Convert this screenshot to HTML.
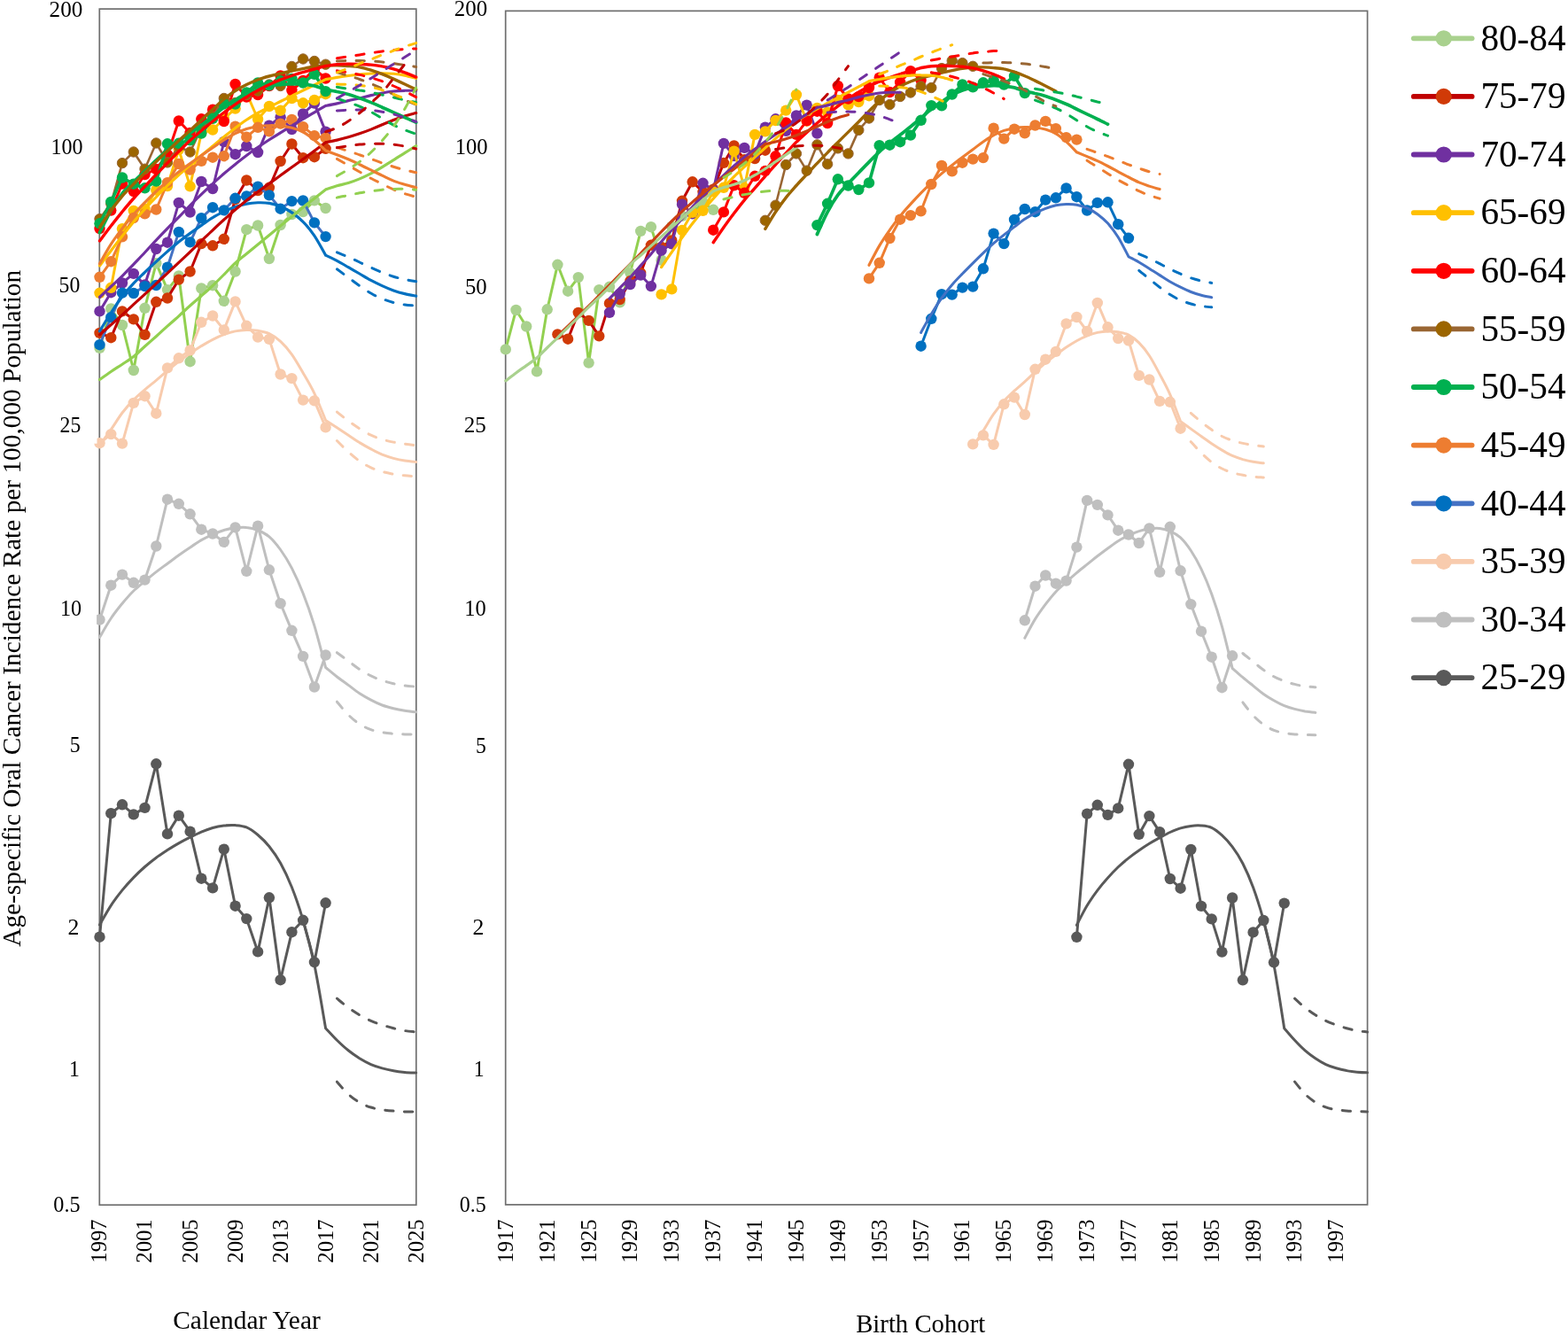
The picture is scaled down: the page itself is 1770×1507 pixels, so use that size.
<!DOCTYPE html>
<html><head><meta charset="utf-8"><title>Age-specific Oral Cancer Incidence Rate</title>
<style>html,body{margin:0;padding:0;background:#fff}svg{display:block}</style></head>
<body>
<svg width="1770" height="1507" viewBox="0 0 1770 1507" font-family='"Liberation Serif", "Times New Roman", serif' fill="#000">
<rect width="1770" height="1507" fill="#fff"/>
<g id="panel-calendar-year">
<rect x="112.3" y="10.1" width="357.50" height="1350.10" fill="none" stroke="#6f6f6f" stroke-width="1.7"/>
<path d="M112.5,392.9 L125.3,348.5 L138.0,367.0 L150.8,418.0 L163.5,347.8 L176.3,297.2 L189.0,327.1 L201.8,311.5 L214.6,408.2 L227.3,325.5 L240.1,322.2 L252.8,339.8 L265.6,306.5 L278.3,259.2 L291.1,254.5 L303.9,292.0 L316.6,254.0 L329.4,242.0 L342.1,239.0 L354.9,226.4 L367.6,235.0" fill="none" stroke="#92D050" stroke-width="3.0" stroke-linejoin="round" stroke-linecap="round"/>
<circle cx="112.5" cy="392.9" r="6.2" fill="#A9D18E"/>
<circle cx="125.3" cy="348.5" r="6.2" fill="#A9D18E"/>
<circle cx="138.0" cy="367.0" r="6.2" fill="#A9D18E"/>
<circle cx="150.8" cy="418.0" r="6.2" fill="#A9D18E"/>
<circle cx="163.5" cy="347.8" r="6.2" fill="#A9D18E"/>
<circle cx="176.3" cy="297.2" r="6.2" fill="#A9D18E"/>
<circle cx="189.0" cy="327.1" r="6.2" fill="#A9D18E"/>
<circle cx="201.8" cy="311.5" r="6.2" fill="#A9D18E"/>
<circle cx="214.6" cy="408.2" r="6.2" fill="#A9D18E"/>
<circle cx="227.3" cy="325.5" r="6.2" fill="#A9D18E"/>
<circle cx="240.1" cy="322.2" r="6.2" fill="#A9D18E"/>
<circle cx="252.8" cy="339.8" r="6.2" fill="#A9D18E"/>
<circle cx="265.6" cy="306.5" r="6.2" fill="#A9D18E"/>
<circle cx="278.3" cy="259.2" r="6.2" fill="#A9D18E"/>
<circle cx="291.1" cy="254.5" r="6.2" fill="#A9D18E"/>
<circle cx="303.9" cy="292.0" r="6.2" fill="#A9D18E"/>
<circle cx="316.6" cy="254.0" r="6.2" fill="#A9D18E"/>
<circle cx="329.4" cy="242.0" r="6.2" fill="#A9D18E"/>
<circle cx="342.1" cy="239.0" r="6.2" fill="#A9D18E"/>
<circle cx="354.9" cy="226.4" r="6.2" fill="#A9D18E"/>
<circle cx="367.6" cy="235.0" r="6.2" fill="#A9D18E"/>
<path d="M112.5,375.9 L125.3,381.2 L138.0,351.4 L150.8,360.4 L163.5,377.9 L176.3,340.8 L189.0,336.5 L201.8,315.6 L214.6,306.5 L227.3,275.1 L240.1,277.3 L252.8,269.8 L265.6,225.0 L278.3,203.5 L291.1,215.0 L303.9,211.8 L316.6,182.0 L329.4,162.5 L342.1,178.2 L354.9,177.2 L367.6,167.8" fill="none" stroke="#C00000" stroke-width="3.0" stroke-linejoin="round" stroke-linecap="round"/>
<circle cx="112.5" cy="375.9" r="6.2" fill="#D03A07"/>
<circle cx="125.3" cy="381.2" r="6.2" fill="#D03A07"/>
<circle cx="138.0" cy="351.4" r="6.2" fill="#D03A07"/>
<circle cx="150.8" cy="360.4" r="6.2" fill="#D03A07"/>
<circle cx="163.5" cy="377.9" r="6.2" fill="#D03A07"/>
<circle cx="176.3" cy="340.8" r="6.2" fill="#D03A07"/>
<circle cx="189.0" cy="336.5" r="6.2" fill="#D03A07"/>
<circle cx="201.8" cy="315.6" r="6.2" fill="#D03A07"/>
<circle cx="214.6" cy="306.5" r="6.2" fill="#D03A07"/>
<circle cx="227.3" cy="275.1" r="6.2" fill="#D03A07"/>
<circle cx="240.1" cy="277.3" r="6.2" fill="#D03A07"/>
<circle cx="252.8" cy="269.8" r="6.2" fill="#D03A07"/>
<circle cx="265.6" cy="225.0" r="6.2" fill="#D03A07"/>
<circle cx="278.3" cy="203.5" r="6.2" fill="#D03A07"/>
<circle cx="291.1" cy="215.0" r="6.2" fill="#D03A07"/>
<circle cx="303.9" cy="211.8" r="6.2" fill="#D03A07"/>
<circle cx="316.6" cy="182.0" r="6.2" fill="#D03A07"/>
<circle cx="329.4" cy="162.5" r="6.2" fill="#D03A07"/>
<circle cx="342.1" cy="178.2" r="6.2" fill="#D03A07"/>
<circle cx="354.9" cy="177.2" r="6.2" fill="#D03A07"/>
<circle cx="367.6" cy="167.8" r="6.2" fill="#D03A07"/>
<path d="M112.5,351.4 L125.3,330.2 L138.0,319.5 L150.8,308.9 L163.5,321.5 L176.3,281.0 L189.0,273.7 L201.8,228.9 L214.6,239.5 L227.3,205.0 L240.1,213.0 L252.8,160.0 L265.6,174.2 L278.3,165.0 L291.1,172.0 L303.9,141.7 L316.6,132.3 L329.4,146.0 L342.1,128.5 L354.9,116.6 L367.6,148.6" fill="none" stroke="#7030A0" stroke-width="3.0" stroke-linejoin="round" stroke-linecap="round"/>
<circle cx="112.5" cy="351.4" r="6.2" fill="#7030A0"/>
<circle cx="125.3" cy="330.2" r="6.2" fill="#7030A0"/>
<circle cx="138.0" cy="319.5" r="6.2" fill="#7030A0"/>
<circle cx="150.8" cy="308.9" r="6.2" fill="#7030A0"/>
<circle cx="163.5" cy="321.5" r="6.2" fill="#7030A0"/>
<circle cx="176.3" cy="281.0" r="6.2" fill="#7030A0"/>
<circle cx="189.0" cy="273.7" r="6.2" fill="#7030A0"/>
<circle cx="201.8" cy="228.9" r="6.2" fill="#7030A0"/>
<circle cx="214.6" cy="239.5" r="6.2" fill="#7030A0"/>
<circle cx="227.3" cy="205.0" r="6.2" fill="#7030A0"/>
<circle cx="240.1" cy="213.0" r="6.2" fill="#7030A0"/>
<circle cx="252.8" cy="160.0" r="6.2" fill="#7030A0"/>
<circle cx="265.6" cy="174.2" r="6.2" fill="#7030A0"/>
<circle cx="278.3" cy="165.0" r="6.2" fill="#7030A0"/>
<circle cx="291.1" cy="172.0" r="6.2" fill="#7030A0"/>
<circle cx="303.9" cy="141.7" r="6.2" fill="#7030A0"/>
<circle cx="316.6" cy="132.3" r="6.2" fill="#7030A0"/>
<circle cx="329.4" cy="146.0" r="6.2" fill="#7030A0"/>
<circle cx="342.1" cy="128.5" r="6.2" fill="#7030A0"/>
<circle cx="354.9" cy="116.6" r="6.2" fill="#7030A0"/>
<circle cx="367.6" cy="148.6" r="6.2" fill="#7030A0"/>
<path d="M112.5,330.8 L125.3,324.8 L138.0,258.2 L150.8,238.0 L163.5,236.0 L176.3,214.6 L189.0,210.0 L201.8,168.8 L214.6,210.3 L227.3,150.0 L240.1,146.5 L252.8,134.0 L265.6,122.6 L278.3,105.0 L291.1,134.5 L303.9,120.0 L316.6,124.8 L329.4,111.0 L342.1,116.3 L354.9,113.0 L367.6,106.2" fill="none" stroke="#FFC000" stroke-width="3.0" stroke-linejoin="round" stroke-linecap="round"/>
<circle cx="112.5" cy="330.8" r="6.2" fill="#FFC000"/>
<circle cx="125.3" cy="324.8" r="6.2" fill="#FFC000"/>
<circle cx="138.0" cy="258.2" r="6.2" fill="#FFC000"/>
<circle cx="150.8" cy="238.0" r="6.2" fill="#FFC000"/>
<circle cx="163.5" cy="236.0" r="6.2" fill="#FFC000"/>
<circle cx="176.3" cy="214.6" r="6.2" fill="#FFC000"/>
<circle cx="189.0" cy="210.0" r="6.2" fill="#FFC000"/>
<circle cx="201.8" cy="168.8" r="6.2" fill="#FFC000"/>
<circle cx="214.6" cy="210.3" r="6.2" fill="#FFC000"/>
<circle cx="227.3" cy="150.0" r="6.2" fill="#FFC000"/>
<circle cx="240.1" cy="146.5" r="6.2" fill="#FFC000"/>
<circle cx="252.8" cy="134.0" r="6.2" fill="#FFC000"/>
<circle cx="265.6" cy="122.6" r="6.2" fill="#FFC000"/>
<circle cx="278.3" cy="105.0" r="6.2" fill="#FFC000"/>
<circle cx="291.1" cy="134.5" r="6.2" fill="#FFC000"/>
<circle cx="303.9" cy="120.0" r="6.2" fill="#FFC000"/>
<circle cx="316.6" cy="124.8" r="6.2" fill="#FFC000"/>
<circle cx="329.4" cy="111.0" r="6.2" fill="#FFC000"/>
<circle cx="342.1" cy="116.3" r="6.2" fill="#FFC000"/>
<circle cx="354.9" cy="113.0" r="6.2" fill="#FFC000"/>
<circle cx="367.6" cy="106.2" r="6.2" fill="#FFC000"/>
<path d="M112.5,258.0 L125.3,237.6 L138.0,207.5 L150.8,216.0 L163.5,197.0 L176.3,191.0 L189.0,174.4 L201.8,136.5 L214.6,150.0 L227.3,134.3 L240.1,123.7 L252.8,137.0 L265.6,95.0 L278.3,109.5 L291.1,107.1 L303.9,97.0 L316.6,85.5 L329.4,102.0 L342.1,91.0 L354.9,78.0 L367.6,88.5" fill="none" stroke="#FF0000" stroke-width="3.0" stroke-linejoin="round" stroke-linecap="round"/>
<circle cx="112.5" cy="258.0" r="6.2" fill="#FF0000"/>
<circle cx="125.3" cy="237.6" r="6.2" fill="#FF0000"/>
<circle cx="138.0" cy="207.5" r="6.2" fill="#FF0000"/>
<circle cx="150.8" cy="216.0" r="6.2" fill="#FF0000"/>
<circle cx="163.5" cy="197.0" r="6.2" fill="#FF0000"/>
<circle cx="176.3" cy="191.0" r="6.2" fill="#FF0000"/>
<circle cx="189.0" cy="174.4" r="6.2" fill="#FF0000"/>
<circle cx="201.8" cy="136.5" r="6.2" fill="#FF0000"/>
<circle cx="214.6" cy="150.0" r="6.2" fill="#FF0000"/>
<circle cx="227.3" cy="134.3" r="6.2" fill="#FF0000"/>
<circle cx="240.1" cy="123.7" r="6.2" fill="#FF0000"/>
<circle cx="252.8" cy="137.0" r="6.2" fill="#FF0000"/>
<circle cx="265.6" cy="95.0" r="6.2" fill="#FF0000"/>
<circle cx="278.3" cy="109.5" r="6.2" fill="#FF0000"/>
<circle cx="291.1" cy="107.1" r="6.2" fill="#FF0000"/>
<circle cx="303.9" cy="97.0" r="6.2" fill="#FF0000"/>
<circle cx="316.6" cy="85.5" r="6.2" fill="#FF0000"/>
<circle cx="329.4" cy="102.0" r="6.2" fill="#FF0000"/>
<circle cx="342.1" cy="91.0" r="6.2" fill="#FF0000"/>
<circle cx="354.9" cy="78.0" r="6.2" fill="#FF0000"/>
<circle cx="367.6" cy="88.5" r="6.2" fill="#FF0000"/>
<path d="M112.5,247.1 L125.3,229.9 L138.0,184.1 L150.8,171.5 L163.5,190.7 L176.3,161.5 L189.0,183.4 L201.8,165.5 L214.6,171.5 L227.3,145.0 L240.1,131.5 L252.8,111.0 L265.6,116.0 L278.3,107.0 L291.1,102.5 L303.9,95.5 L316.6,97.0 L329.4,75.0 L342.1,66.5 L354.9,69.0 L367.6,72.7" fill="none" stroke="#996633" stroke-width="2.6" stroke-linejoin="round" stroke-linecap="round"/>
<circle cx="112.5" cy="247.1" r="5.7" fill="#9C6500" stroke="#996633" stroke-width="1"/>
<circle cx="125.3" cy="229.9" r="5.7" fill="#9C6500" stroke="#996633" stroke-width="1"/>
<circle cx="138.0" cy="184.1" r="5.7" fill="#9C6500" stroke="#996633" stroke-width="1"/>
<circle cx="150.8" cy="171.5" r="5.7" fill="#9C6500" stroke="#996633" stroke-width="1"/>
<circle cx="163.5" cy="190.7" r="5.7" fill="#9C6500" stroke="#996633" stroke-width="1"/>
<circle cx="176.3" cy="161.5" r="5.7" fill="#9C6500" stroke="#996633" stroke-width="1"/>
<circle cx="189.0" cy="183.4" r="5.7" fill="#9C6500" stroke="#996633" stroke-width="1"/>
<circle cx="201.8" cy="165.5" r="5.7" fill="#9C6500" stroke="#996633" stroke-width="1"/>
<circle cx="214.6" cy="171.5" r="5.7" fill="#9C6500" stroke="#996633" stroke-width="1"/>
<circle cx="227.3" cy="145.0" r="5.7" fill="#9C6500" stroke="#996633" stroke-width="1"/>
<circle cx="240.1" cy="131.5" r="5.7" fill="#9C6500" stroke="#996633" stroke-width="1"/>
<circle cx="252.8" cy="111.0" r="5.7" fill="#9C6500" stroke="#996633" stroke-width="1"/>
<circle cx="265.6" cy="116.0" r="5.7" fill="#9C6500" stroke="#996633" stroke-width="1"/>
<circle cx="278.3" cy="107.0" r="5.7" fill="#9C6500" stroke="#996633" stroke-width="1"/>
<circle cx="291.1" cy="102.5" r="5.7" fill="#9C6500" stroke="#996633" stroke-width="1"/>
<circle cx="303.9" cy="95.5" r="5.7" fill="#9C6500" stroke="#996633" stroke-width="1"/>
<circle cx="316.6" cy="97.0" r="5.7" fill="#9C6500" stroke="#996633" stroke-width="1"/>
<circle cx="329.4" cy="75.0" r="5.7" fill="#9C6500" stroke="#996633" stroke-width="1"/>
<circle cx="342.1" cy="66.5" r="5.7" fill="#9C6500" stroke="#996633" stroke-width="1"/>
<circle cx="354.9" cy="69.0" r="5.7" fill="#9C6500" stroke="#996633" stroke-width="1"/>
<circle cx="367.6" cy="72.7" r="5.7" fill="#9C6500" stroke="#996633" stroke-width="1"/>
<path d="M112.5,252.3 L125.3,228.0 L138.0,200.5 L150.8,207.7 L163.5,212.3 L176.3,204.6 L189.0,162.3 L201.8,161.8 L214.6,158.3 L227.3,150.6 L240.1,133.8 L252.8,117.2 L265.6,117.5 L278.3,104.5 L291.1,93.5 L303.9,96.3 L316.6,91.2 L329.4,89.0 L342.1,93.5 L354.9,83.9 L367.6,103.1" fill="none" stroke="#00B050" stroke-width="3.6" stroke-linejoin="round" stroke-linecap="round"/>
<circle cx="112.5" cy="252.3" r="6.2" fill="#00B050"/>
<circle cx="125.3" cy="228.0" r="6.2" fill="#00B050"/>
<circle cx="138.0" cy="200.5" r="6.2" fill="#00B050"/>
<circle cx="150.8" cy="207.7" r="6.2" fill="#00B050"/>
<circle cx="163.5" cy="212.3" r="6.2" fill="#00B050"/>
<circle cx="176.3" cy="204.6" r="6.2" fill="#00B050"/>
<circle cx="189.0" cy="162.3" r="6.2" fill="#00B050"/>
<circle cx="201.8" cy="161.8" r="6.2" fill="#00B050"/>
<circle cx="214.6" cy="158.3" r="6.2" fill="#00B050"/>
<circle cx="227.3" cy="150.6" r="6.2" fill="#00B050"/>
<circle cx="240.1" cy="133.8" r="6.2" fill="#00B050"/>
<circle cx="252.8" cy="117.2" r="6.2" fill="#00B050"/>
<circle cx="265.6" cy="117.5" r="6.2" fill="#00B050"/>
<circle cx="278.3" cy="104.5" r="6.2" fill="#00B050"/>
<circle cx="291.1" cy="93.5" r="6.2" fill="#00B050"/>
<circle cx="303.9" cy="96.3" r="6.2" fill="#00B050"/>
<circle cx="316.6" cy="91.2" r="6.2" fill="#00B050"/>
<circle cx="329.4" cy="89.0" r="6.2" fill="#00B050"/>
<circle cx="342.1" cy="93.5" r="6.2" fill="#00B050"/>
<circle cx="354.9" cy="83.9" r="6.2" fill="#00B050"/>
<circle cx="367.6" cy="103.1" r="6.2" fill="#00B050"/>
<path d="M112.5,312.8 L125.3,295.2 L138.0,267.3 L150.8,246.0 L163.5,241.4 L176.3,236.5 L189.0,206.2 L201.8,185.0 L214.6,191.5 L227.3,181.9 L240.1,177.7 L252.8,176.2 L265.6,142.7 L278.3,154.7 L291.1,143.8 L303.9,148.4 L316.6,139.6 L329.4,135.0 L342.1,143.1 L354.9,153.2 L367.6,155.7" fill="none" stroke="#ED7D31" stroke-width="3.0" stroke-linejoin="round" stroke-linecap="round"/>
<circle cx="112.5" cy="312.8" r="6.2" fill="#ED7D31"/>
<circle cx="125.3" cy="295.2" r="6.2" fill="#ED7D31"/>
<circle cx="138.0" cy="267.3" r="6.2" fill="#ED7D31"/>
<circle cx="150.8" cy="246.0" r="6.2" fill="#ED7D31"/>
<circle cx="163.5" cy="241.4" r="6.2" fill="#ED7D31"/>
<circle cx="176.3" cy="236.5" r="6.2" fill="#ED7D31"/>
<circle cx="189.0" cy="206.2" r="6.2" fill="#ED7D31"/>
<circle cx="201.8" cy="185.0" r="6.2" fill="#ED7D31"/>
<circle cx="214.6" cy="191.5" r="6.2" fill="#ED7D31"/>
<circle cx="227.3" cy="181.9" r="6.2" fill="#ED7D31"/>
<circle cx="240.1" cy="177.7" r="6.2" fill="#ED7D31"/>
<circle cx="252.8" cy="176.2" r="6.2" fill="#ED7D31"/>
<circle cx="265.6" cy="142.7" r="6.2" fill="#ED7D31"/>
<circle cx="278.3" cy="154.7" r="6.2" fill="#ED7D31"/>
<circle cx="291.1" cy="143.8" r="6.2" fill="#ED7D31"/>
<circle cx="303.9" cy="148.4" r="6.2" fill="#ED7D31"/>
<circle cx="316.6" cy="139.6" r="6.2" fill="#ED7D31"/>
<circle cx="329.4" cy="135.0" r="6.2" fill="#ED7D31"/>
<circle cx="342.1" cy="143.1" r="6.2" fill="#ED7D31"/>
<circle cx="354.9" cy="153.2" r="6.2" fill="#ED7D31"/>
<circle cx="367.6" cy="155.7" r="6.2" fill="#ED7D31"/>
<path d="M112.5,389.2 L125.3,358.2 L138.0,330.6 L150.8,331.0 L163.5,323.1 L176.3,322.0 L189.0,301.7 L201.8,261.9 L214.6,273.4 L227.3,246.2 L240.1,234.2 L252.8,237.4 L265.6,223.8 L278.3,221.5 L291.1,210.6 L303.9,220.4 L316.6,235.7 L329.4,227.1 L342.1,226.5 L354.9,251.4 L367.6,267.1" fill="none" stroke="#4472C4" stroke-width="3.0" stroke-linejoin="round" stroke-linecap="round"/>
<circle cx="112.5" cy="389.2" r="6.2" fill="#0070C0"/>
<circle cx="125.3" cy="358.2" r="6.2" fill="#0070C0"/>
<circle cx="138.0" cy="330.6" r="6.2" fill="#0070C0"/>
<circle cx="150.8" cy="331.0" r="6.2" fill="#0070C0"/>
<circle cx="163.5" cy="323.1" r="6.2" fill="#0070C0"/>
<circle cx="176.3" cy="322.0" r="6.2" fill="#0070C0"/>
<circle cx="189.0" cy="301.7" r="6.2" fill="#0070C0"/>
<circle cx="201.8" cy="261.9" r="6.2" fill="#0070C0"/>
<circle cx="214.6" cy="273.4" r="6.2" fill="#0070C0"/>
<circle cx="227.3" cy="246.2" r="6.2" fill="#0070C0"/>
<circle cx="240.1" cy="234.2" r="6.2" fill="#0070C0"/>
<circle cx="252.8" cy="237.4" r="6.2" fill="#0070C0"/>
<circle cx="265.6" cy="223.8" r="6.2" fill="#0070C0"/>
<circle cx="278.3" cy="221.5" r="6.2" fill="#0070C0"/>
<circle cx="291.1" cy="210.6" r="6.2" fill="#0070C0"/>
<circle cx="303.9" cy="220.4" r="6.2" fill="#0070C0"/>
<circle cx="316.6" cy="235.7" r="6.2" fill="#0070C0"/>
<circle cx="329.4" cy="227.1" r="6.2" fill="#0070C0"/>
<circle cx="342.1" cy="226.5" r="6.2" fill="#0070C0"/>
<circle cx="354.9" cy="251.4" r="6.2" fill="#0070C0"/>
<circle cx="367.6" cy="267.1" r="6.2" fill="#0070C0"/>
<path d="M112.5,500.2 L125.3,490.1 L138.0,500.6 L150.8,454.9 L163.5,447.2 L176.3,466.7 L189.0,415.4 L201.8,404.3 L214.6,395.5 L227.3,363.8 L240.1,356.5 L252.8,372.4 L265.6,340.4 L278.3,367.8 L291.1,380.6 L303.9,382.9 L316.6,422.5 L329.4,427.1 L342.1,451.6 L354.9,452.4 L367.6,482.4" fill="none" stroke="#F8CBAD" stroke-width="3.0" stroke-linejoin="round" stroke-linecap="round"/>
<circle cx="112.5" cy="500.2" r="6.2" fill="#F8CBAD"/>
<circle cx="125.3" cy="490.1" r="6.2" fill="#F8CBAD"/>
<circle cx="138.0" cy="500.6" r="6.2" fill="#F8CBAD"/>
<circle cx="150.8" cy="454.9" r="6.2" fill="#F8CBAD"/>
<circle cx="163.5" cy="447.2" r="6.2" fill="#F8CBAD"/>
<circle cx="176.3" cy="466.7" r="6.2" fill="#F8CBAD"/>
<circle cx="189.0" cy="415.4" r="6.2" fill="#F8CBAD"/>
<circle cx="201.8" cy="404.3" r="6.2" fill="#F8CBAD"/>
<circle cx="214.6" cy="395.5" r="6.2" fill="#F8CBAD"/>
<circle cx="227.3" cy="363.8" r="6.2" fill="#F8CBAD"/>
<circle cx="240.1" cy="356.5" r="6.2" fill="#F8CBAD"/>
<circle cx="252.8" cy="372.4" r="6.2" fill="#F8CBAD"/>
<circle cx="265.6" cy="340.4" r="6.2" fill="#F8CBAD"/>
<circle cx="278.3" cy="367.8" r="6.2" fill="#F8CBAD"/>
<circle cx="291.1" cy="380.6" r="6.2" fill="#F8CBAD"/>
<circle cx="303.9" cy="382.9" r="6.2" fill="#F8CBAD"/>
<circle cx="316.6" cy="422.5" r="6.2" fill="#F8CBAD"/>
<circle cx="329.4" cy="427.1" r="6.2" fill="#F8CBAD"/>
<circle cx="342.1" cy="451.6" r="6.2" fill="#F8CBAD"/>
<circle cx="354.9" cy="452.4" r="6.2" fill="#F8CBAD"/>
<circle cx="367.6" cy="482.4" r="6.2" fill="#F8CBAD"/>
<path d="M112.5,699.5 L125.3,660.7 L138.0,648.6 L150.8,657.8 L163.5,654.6 L176.3,616.5 L189.0,563.7 L201.8,568.8 L214.6,580.3 L227.3,597.7 L240.1,602.5 L252.8,611.9 L265.6,595.4 L278.3,644.8 L291.1,593.7 L303.9,643.3 L316.6,681.2 L329.4,711.8 L342.1,740.9 L354.9,775.5 L367.6,739.5" fill="none" stroke="#BFBFBF" stroke-width="3.0" stroke-linejoin="round" stroke-linecap="round"/>
<circle cx="112.5" cy="699.5" r="6.2" fill="#BFBFBF"/>
<circle cx="125.3" cy="660.7" r="6.2" fill="#BFBFBF"/>
<circle cx="138.0" cy="648.6" r="6.2" fill="#BFBFBF"/>
<circle cx="150.8" cy="657.8" r="6.2" fill="#BFBFBF"/>
<circle cx="163.5" cy="654.6" r="6.2" fill="#BFBFBF"/>
<circle cx="176.3" cy="616.5" r="6.2" fill="#BFBFBF"/>
<circle cx="189.0" cy="563.7" r="6.2" fill="#BFBFBF"/>
<circle cx="201.8" cy="568.8" r="6.2" fill="#BFBFBF"/>
<circle cx="214.6" cy="580.3" r="6.2" fill="#BFBFBF"/>
<circle cx="227.3" cy="597.7" r="6.2" fill="#BFBFBF"/>
<circle cx="240.1" cy="602.5" r="6.2" fill="#BFBFBF"/>
<circle cx="252.8" cy="611.9" r="6.2" fill="#BFBFBF"/>
<circle cx="265.6" cy="595.4" r="6.2" fill="#BFBFBF"/>
<circle cx="278.3" cy="644.8" r="6.2" fill="#BFBFBF"/>
<circle cx="291.1" cy="593.7" r="6.2" fill="#BFBFBF"/>
<circle cx="303.9" cy="643.3" r="6.2" fill="#BFBFBF"/>
<circle cx="316.6" cy="681.2" r="6.2" fill="#BFBFBF"/>
<circle cx="329.4" cy="711.8" r="6.2" fill="#BFBFBF"/>
<circle cx="342.1" cy="740.9" r="6.2" fill="#BFBFBF"/>
<circle cx="354.9" cy="775.5" r="6.2" fill="#BFBFBF"/>
<circle cx="367.6" cy="739.5" r="6.2" fill="#BFBFBF"/>
<path d="M112.5,1057.7 L125.3,918.2 L138.0,908.3 L150.8,919.4 L163.5,911.9 L176.3,862.3 L189.0,941.4 L201.8,920.7 L214.6,938.7 L227.3,991.7 L240.1,1002.4 L252.8,958.6 L265.6,1022.7 L278.3,1037.1 L291.1,1074.4 L303.9,1013.3 L316.6,1106.2 L329.4,1052.2 L342.1,1038.8 L354.9,1086.1 L367.6,1019.3" fill="none" stroke="#595959" stroke-width="3.0" stroke-linejoin="round" stroke-linecap="round"/>
<circle cx="112.5" cy="1057.7" r="6.2" fill="#595959"/>
<circle cx="125.3" cy="918.2" r="6.2" fill="#595959"/>
<circle cx="138.0" cy="908.3" r="6.2" fill="#595959"/>
<circle cx="150.8" cy="919.4" r="6.2" fill="#595959"/>
<circle cx="163.5" cy="911.9" r="6.2" fill="#595959"/>
<circle cx="176.3" cy="862.3" r="6.2" fill="#595959"/>
<circle cx="189.0" cy="941.4" r="6.2" fill="#595959"/>
<circle cx="201.8" cy="920.7" r="6.2" fill="#595959"/>
<circle cx="214.6" cy="938.7" r="6.2" fill="#595959"/>
<circle cx="227.3" cy="991.7" r="6.2" fill="#595959"/>
<circle cx="240.1" cy="1002.4" r="6.2" fill="#595959"/>
<circle cx="252.8" cy="958.6" r="6.2" fill="#595959"/>
<circle cx="265.6" cy="1022.7" r="6.2" fill="#595959"/>
<circle cx="278.3" cy="1037.1" r="6.2" fill="#595959"/>
<circle cx="291.1" cy="1074.4" r="6.2" fill="#595959"/>
<circle cx="303.9" cy="1013.3" r="6.2" fill="#595959"/>
<circle cx="316.6" cy="1106.2" r="6.2" fill="#595959"/>
<circle cx="329.4" cy="1052.2" r="6.2" fill="#595959"/>
<circle cx="342.1" cy="1038.8" r="6.2" fill="#595959"/>
<circle cx="354.9" cy="1086.1" r="6.2" fill="#595959"/>
<circle cx="367.6" cy="1019.3" r="6.2" fill="#595959"/>
<path d="M112.5,1044.0 C114.6,1040.4 121.0,1028.6 125.3,1022.1 C129.5,1015.5 133.8,1010.1 138.0,1004.9 C142.3,999.6 146.5,995.0 150.8,990.6 C155.0,986.2 159.3,982.2 163.5,978.5 C167.8,974.8 172.0,971.4 176.3,968.2 C180.5,965.1 184.8,962.4 189.0,959.6 C193.3,956.9 197.5,954.3 201.8,951.9 C206.1,949.5 210.3,947.3 214.6,945.2 C218.8,943.1 223.1,940.9 227.3,939.1 C231.6,937.3 235.8,935.7 240.1,934.5 C244.3,933.3 248.6,932.5 252.8,932.0 C257.1,931.5 261.3,931.3 265.6,931.6 C269.8,931.9 274.1,932.1 278.3,933.9 C282.6,935.7 286.8,938.9 291.1,942.5 C295.4,946.1 299.6,950.2 303.9,955.5 C308.1,960.8 312.4,966.6 316.6,974.3 C320.9,982.0 325.1,990.8 329.4,1001.5 C333.6,1012.3 337.9,1024.2 342.1,1038.8 C346.4,1053.4 350.6,1068.8 354.9,1089.1 C359.1,1109.4 365.5,1148.8 367.6,1160.7 M367.6,1160.7 C369.8,1163.0 376.1,1170.1 380.4,1174.3 C384.7,1178.5 388.9,1182.4 393.2,1185.8 C397.4,1189.2 401.7,1192.1 405.9,1194.8 C410.2,1197.4 414.4,1199.8 418.7,1201.7 C422.9,1203.5 427.2,1204.8 431.4,1205.9 C435.7,1207.1 439.9,1208.0 444.2,1208.7 C448.4,1209.5 452.7,1210.0 456.9,1210.4 C461.2,1210.8 467.6,1210.9 469.7,1211.0" fill="none" stroke="#595959" stroke-width="3.0" stroke-linejoin="round" stroke-linecap="round"/>
<path d="M112.5,719.4 C114.6,715.8 121.0,704.3 125.3,698.0 C129.5,691.6 133.8,686.4 138.0,681.2 C142.3,676.1 146.5,671.2 150.8,667.0 C155.0,662.8 159.3,659.7 163.5,656.1 C167.8,652.5 172.0,648.9 176.3,645.6 C180.5,642.3 184.8,639.3 189.0,636.2 C193.3,633.1 197.5,629.8 201.8,626.8 C206.1,623.7 210.3,620.8 214.6,618.0 C218.8,615.1 223.1,612.1 227.3,609.6 C231.6,607.2 235.8,605.2 240.1,603.3 C244.3,601.5 248.6,599.8 252.8,598.5 C257.1,597.3 261.3,596.3 265.6,595.8 C269.8,595.3 274.1,594.9 278.3,595.4 C282.6,595.8 286.8,596.8 291.1,598.5 C295.4,600.3 299.6,602.2 303.9,605.8 C308.1,609.5 312.4,614.6 316.6,620.5 C320.9,626.4 325.1,633.2 329.4,641.4 C333.6,649.6 337.9,658.9 342.1,669.7 C346.4,680.5 350.6,692.4 354.9,706.4 C359.1,720.3 365.5,745.6 367.6,753.5 M367.6,753.5 C369.8,755.2 376.1,760.6 380.4,764.0 C384.7,767.3 388.9,770.2 393.2,773.4 C397.4,776.5 401.7,780.0 405.9,782.8 C410.2,785.6 414.4,787.9 418.7,790.1 C422.9,792.3 427.2,794.4 431.4,796.0 C435.7,797.6 439.9,798.7 444.2,799.8 C448.4,800.8 452.7,801.6 456.9,802.3 C461.2,803.0 467.6,803.5 469.7,803.8" fill="none" stroke="#BFBFBF" stroke-width="3.0" stroke-linejoin="round" stroke-linecap="round"/>
<path d="M112.5,502.7 C114.6,499.7 121.0,491.0 125.3,484.9 C129.5,478.8 133.8,471.6 138.0,466.0 C142.3,460.5 146.5,455.7 150.8,451.4 C155.0,447.0 159.3,443.5 163.5,439.9 C167.8,436.2 172.0,433.0 176.3,429.4 C180.5,425.8 184.8,422.1 189.0,418.5 C193.3,414.9 197.5,411.3 201.8,408.0 C206.1,404.8 210.3,401.9 214.6,399.0 C218.8,396.1 223.1,393.3 227.3,390.6 C231.6,388.0 235.8,385.5 240.1,383.3 C244.3,381.2 248.6,379.2 252.8,377.7 C257.1,376.1 261.3,374.8 265.6,373.9 C269.8,373.0 274.1,372.5 278.3,372.4 C282.6,372.3 286.8,372.6 291.1,373.3 C295.4,374.0 299.6,374.6 303.9,376.6 C308.1,378.6 312.4,381.5 316.6,385.4 C320.9,389.3 325.1,394.1 329.4,400.1 C333.6,406.0 337.9,413.7 342.1,421.0 C346.4,428.3 350.6,435.1 354.9,444.1 C359.1,453.0 365.5,469.4 367.6,474.4 M367.6,474.4 C369.8,475.8 376.1,480.0 380.4,482.8 C384.7,485.6 388.9,488.4 393.2,491.2 C397.4,494.0 401.7,496.9 405.9,499.6 C410.2,502.2 414.4,504.6 418.7,506.9 C422.9,509.1 427.2,511.4 431.4,513.2 C435.7,514.9 439.9,516.2 444.2,517.4 C448.4,518.5 452.7,519.4 456.9,520.1 C461.2,520.8 467.6,521.3 469.7,521.5" fill="none" stroke="#F8CBAD" stroke-width="3.0" stroke-linejoin="round" stroke-linecap="round"/>
<path d="M112.5,373.9 C114.6,370.4 121.0,359.5 125.3,353.0 C129.5,346.5 133.8,340.3 138.0,334.8 C142.3,329.3 146.5,324.5 150.8,319.9 C155.0,315.3 159.3,311.4 163.5,307.3 C167.8,303.3 172.0,299.3 176.3,295.4 C180.5,291.5 184.8,287.6 189.0,283.9 C193.3,280.2 197.5,276.4 201.8,273.0 C206.1,269.6 210.3,266.5 214.6,263.4 C218.8,260.3 223.1,257.3 227.3,254.4 C231.6,251.4 235.8,248.1 240.1,245.6 C244.3,243.0 248.6,240.9 252.8,238.9 C257.1,236.9 261.3,235.1 265.6,233.6 C269.8,232.2 274.1,230.9 278.3,230.1 C282.6,229.3 286.8,228.9 291.1,228.8 C295.4,228.7 299.6,228.7 303.9,229.4 C308.1,230.1 312.4,231.3 316.6,233.0 C320.9,234.7 325.1,237.0 329.4,239.9 C333.6,242.8 337.9,246.0 342.1,250.4 C346.4,254.7 350.6,259.8 354.9,266.1 C359.1,272.4 365.5,284.4 367.6,288.1 M367.6,288.1 C369.8,289.1 376.1,292.1 380.4,294.4 C384.7,296.6 388.9,299.2 393.2,301.7 C397.4,304.1 401.7,306.6 405.9,309.0 C410.2,311.5 414.4,314.1 418.7,316.4 C422.9,318.6 427.2,320.7 431.4,322.6 C435.7,324.6 439.9,326.4 444.2,327.9 C448.4,329.4 452.7,330.6 456.9,331.6 C461.2,332.7 467.6,333.7 469.7,334.1" fill="none" stroke="#0070C0" stroke-width="3.15" stroke-linejoin="round" stroke-linecap="round"/>
<path d="M112.5,428.5 C114.6,427.0 121.0,422.4 125.3,419.5 C129.5,416.6 133.8,414.0 138.0,411.2 C142.3,408.4 146.5,406.0 150.8,402.6 C155.0,399.2 159.3,394.8 163.5,391.0 C167.8,387.2 172.0,383.6 176.3,379.8 C180.5,376.0 184.8,371.9 189.0,368.1 C193.3,364.3 197.5,360.7 201.8,356.8 C206.1,352.9 210.3,348.8 214.6,345.0 C218.8,341.2 223.1,337.8 227.3,334.0 C231.6,330.2 235.8,326.5 240.1,322.5 C244.3,318.5 248.6,314.2 252.8,310.0 C257.1,305.8 261.3,300.9 265.6,297.0 C269.8,293.1 274.1,290.0 278.3,286.5 C282.6,283.0 286.8,279.5 291.1,276.0 C295.4,272.5 299.6,269.0 303.9,265.5 C308.1,262.0 312.4,258.5 316.6,255.0 C320.9,251.5 325.1,248.0 329.4,244.5 C333.6,241.0 337.9,237.4 342.1,234.0 C346.4,230.6 350.6,227.3 354.9,224.0 C359.1,220.7 365.5,215.7 367.6,214.0 M367.6,214.0 C369.8,213.3 376.1,211.1 380.4,209.8 C384.7,208.6 388.9,207.8 393.2,206.5 C397.4,205.2 401.7,203.7 405.9,201.9 C410.2,200.1 414.4,198.1 418.7,195.9 C422.9,193.7 427.2,191.2 431.4,188.6 C435.7,186.0 439.9,183.2 444.2,180.6 C448.4,177.9 452.7,175.3 456.9,172.7 C461.2,170.0 467.6,166.0 469.7,164.7" fill="none" stroke="#92D050" stroke-width="3.15" stroke-linejoin="round" stroke-linecap="round"/>
<path d="M112.5,377.9 C114.6,376.0 121.0,370.4 125.3,366.6 C129.5,362.9 133.8,359.2 138.0,355.4 C142.3,351.6 146.5,347.6 150.8,343.7 C155.0,339.8 159.3,336.0 163.5,332.1 C167.8,328.2 172.0,324.2 176.3,320.2 C180.5,316.2 184.8,312.3 189.0,308.3 C193.3,304.3 197.5,300.4 201.8,296.4 C206.1,292.4 210.3,288.5 214.6,284.4 C218.8,280.3 223.1,276.1 227.3,272.0 C231.6,267.9 235.8,263.8 240.1,259.8 C244.3,255.8 248.6,251.8 252.8,248.0 C257.1,244.2 261.3,240.4 265.6,236.8 C269.8,233.2 274.1,229.7 278.3,226.3 C282.6,222.9 286.8,219.7 291.1,216.5 C295.4,213.3 299.6,210.3 303.9,207.2 C308.1,204.1 312.4,201.1 316.6,198.0 C320.9,194.9 325.1,191.9 329.4,188.8 C333.6,185.7 337.9,182.7 342.1,179.6 C346.4,176.5 350.6,173.5 354.9,170.3 C359.1,167.2 365.5,162.3 367.6,160.7 M367.6,160.7 C369.8,160.3 376.1,159.1 380.4,158.1 C384.7,157.1 388.9,156.0 393.2,154.8 C397.4,153.6 401.7,152.2 405.9,150.8 C410.2,149.4 414.4,147.8 418.7,146.1 C422.9,144.4 427.2,142.6 431.4,140.8 C435.7,139.0 439.9,137.2 444.2,135.5 C448.4,133.8 452.7,132.2 456.9,130.9 C461.2,129.6 467.6,128.1 469.7,127.5" fill="none" stroke="#C00000" stroke-width="3.15" stroke-linejoin="round" stroke-linecap="round"/>
<path d="M112.5,335.5 C114.6,333.5 121.0,327.5 125.3,323.5 C129.5,319.5 133.8,315.8 138.0,311.6 C142.3,307.4 146.5,302.7 150.8,298.3 C155.0,293.9 159.3,289.5 163.5,285.0 C167.8,280.5 172.0,275.6 176.3,271.1 C180.5,266.6 184.8,262.1 189.0,257.8 C193.3,253.5 197.5,249.5 201.8,245.2 C206.1,240.9 210.3,236.1 214.6,231.8 C218.8,227.5 223.1,223.4 227.3,219.3 C231.6,215.2 235.8,211.2 240.1,207.3 C244.3,203.4 248.6,199.7 252.8,196.0 C257.1,192.3 261.3,188.8 265.6,185.4 C269.8,182.0 274.1,178.7 278.3,175.5 C282.6,172.3 286.8,169.2 291.1,166.3 C295.4,163.4 299.6,160.6 303.9,157.8 C308.1,155.1 312.4,152.4 316.6,149.8 C320.9,147.2 325.1,144.6 329.4,142.0 C333.6,139.4 337.9,136.9 342.1,134.4 C346.4,131.9 350.6,129.3 354.9,126.8 C359.1,124.3 365.5,120.6 367.6,119.4 M367.6,119.4 C369.8,119.0 376.1,117.9 380.4,116.9 C384.7,115.9 388.9,114.6 393.2,113.6 C397.4,112.6 401.7,112.0 405.9,111.0 C410.2,110.0 414.4,108.6 418.7,107.6 C422.9,106.6 427.2,105.8 431.4,105.0 C435.7,104.2 439.9,103.5 444.2,103.0 C448.4,102.5 452.7,102.4 456.9,102.3 C461.2,102.2 467.6,102.3 469.7,102.3" fill="none" stroke="#7030A0" stroke-width="3.15" stroke-linejoin="round" stroke-linecap="round"/>
<path d="M112.5,300.0 C114.6,297.2 121.0,288.6 125.3,283.0 C129.5,277.4 133.8,271.9 138.0,266.5 C142.3,261.1 146.5,255.6 150.8,250.5 C155.0,245.4 159.3,240.7 163.5,236.0 C167.8,231.3 172.0,226.9 176.3,222.5 C180.5,218.1 184.8,213.7 189.0,209.5 C193.3,205.3 197.5,201.3 201.8,197.5 C206.1,193.7 210.3,190.2 214.6,186.5 C218.8,182.8 223.1,179.1 227.3,175.5 C231.6,171.9 235.8,168.5 240.1,165.0 C244.3,161.5 248.6,157.9 252.8,154.5 C257.1,151.1 261.3,147.7 265.6,144.5 C269.8,141.3 274.1,138.1 278.3,135.3 C282.6,132.5 286.8,129.9 291.1,127.5 C295.4,125.1 299.6,123.0 303.9,120.8 C308.1,118.6 312.4,116.6 316.6,114.5 C320.9,112.4 325.1,110.4 329.4,108.3 C333.6,106.2 337.9,104.2 342.1,102.1 C346.4,100.0 350.6,98.0 354.9,95.9 C359.1,93.8 365.5,90.6 367.6,89.6 M367.6,89.6 C369.8,89.2 376.1,88.1 380.4,87.4 C384.7,86.7 388.9,86.1 393.2,85.5 C397.4,84.9 401.7,84.4 405.9,84.0 C410.2,83.6 414.4,83.2 418.7,83.0 C422.9,82.8 427.2,82.7 431.4,82.7 C435.7,82.7 439.9,82.8 444.2,83.2 C448.4,83.6 452.7,84.2 456.9,85.1 C461.2,86.0 467.6,87.9 469.7,88.4" fill="none" stroke="#FFC000" stroke-width="3.15" stroke-linejoin="round" stroke-linecap="round"/>
<path d="M112.5,297.7 C114.6,294.0 121.0,282.3 125.3,275.7 C129.5,269.1 133.8,263.5 138.0,257.9 C142.3,252.3 146.5,247.1 150.8,242.2 C155.0,237.3 159.3,232.9 163.5,228.6 C167.8,224.2 172.0,220.0 176.3,216.0 C180.5,212.0 184.8,208.2 189.0,204.5 C193.3,200.8 197.5,197.3 201.8,194.0 C206.1,190.7 210.3,187.7 214.6,184.6 C218.8,181.5 223.1,178.6 227.3,175.6 C231.6,172.6 235.8,169.7 240.1,166.8 C244.3,163.9 248.6,160.7 252.8,158.0 C257.1,155.3 261.3,152.8 265.6,150.7 C269.8,148.6 274.1,146.8 278.3,145.4 C282.6,144.1 286.8,143.3 291.1,142.7 C295.4,142.1 299.6,141.8 303.9,141.7 C308.1,141.6 312.4,141.7 316.6,142.1 C320.9,142.5 325.1,143.0 329.4,144.2 C333.6,145.3 337.9,146.7 342.1,149.0 C346.4,151.3 350.6,154.5 354.9,158.0 C359.1,161.5 365.5,167.9 367.6,169.9 M367.6,169.9 C369.8,170.7 376.1,173.1 380.4,174.8 C384.7,176.4 388.9,178.0 393.2,179.8 C397.4,181.6 401.7,183.6 405.9,185.7 C410.2,187.7 414.4,189.8 418.7,191.9 C422.9,194.0 427.2,196.2 431.4,198.2 C435.7,200.2 439.9,202.4 444.2,204.1 C448.4,205.8 452.7,207.0 456.9,208.3 C461.2,209.6 467.6,211.2 469.7,211.8" fill="none" stroke="#ED7D31" stroke-width="3.15" stroke-linejoin="round" stroke-linecap="round"/>
<path d="M112.5,262.7 C114.6,258.5 121.0,244.9 125.3,237.5 C129.5,230.1 133.8,223.7 138.0,218.4 C142.3,213.0 146.5,209.6 150.8,205.4 C155.0,201.2 159.3,197.2 163.5,193.2 C167.8,189.1 172.0,184.9 176.3,180.9 C180.5,177.0 184.8,173.0 189.0,169.4 C193.3,165.9 197.5,162.7 201.8,159.5 C206.1,156.3 210.3,153.4 214.6,150.3 C218.8,147.3 223.1,144.3 227.3,141.2 C231.6,138.0 235.8,134.5 240.1,131.2 C244.3,127.9 248.6,124.3 252.8,121.3 C257.1,118.2 261.3,115.5 265.6,112.9 C269.8,110.2 274.1,107.4 278.3,105.2 C282.6,103.1 286.8,101.3 291.1,99.9 C295.4,98.5 299.6,97.6 303.9,96.9 C308.1,96.2 312.4,95.9 316.6,95.5 C320.9,95.2 325.1,94.7 329.4,94.6 C333.6,94.6 337.9,94.8 342.1,95.2 C346.4,95.6 350.6,95.9 354.9,96.9 C359.1,97.9 365.5,100.7 367.6,101.4 M367.6,101.4 C369.8,101.8 376.1,102.6 380.4,103.5 C384.7,104.3 388.9,105.3 393.2,106.5 C397.4,107.7 401.7,109.2 405.9,110.7 C410.2,112.2 414.4,113.8 418.7,115.6 C422.9,117.3 427.2,119.3 431.4,121.2 C435.7,123.1 439.9,125.0 444.2,126.9 C448.4,128.8 452.7,130.7 456.9,132.6 C461.2,134.4 467.6,137.3 469.7,138.2" fill="none" stroke="#00B050" stroke-width="3.7" stroke-linejoin="round" stroke-linecap="round"/>
<path d="M112.5,256.7 C114.6,253.5 121.0,243.4 125.3,237.5 C129.5,231.6 133.8,226.3 138.0,221.3 C142.3,216.3 146.5,212.1 150.8,207.7 C155.0,203.3 159.3,199.2 163.5,195.0 C167.8,190.8 172.0,186.6 176.3,182.5 C180.5,178.4 184.8,174.4 189.0,170.5 C193.3,166.6 197.5,162.7 201.8,158.8 C206.1,154.9 210.3,151.1 214.6,147.2 C218.8,143.3 223.1,139.4 227.3,135.5 C231.6,131.6 235.8,127.4 240.1,123.5 C244.3,119.6 248.6,115.5 252.8,112.0 C257.1,108.5 261.3,105.2 265.6,102.5 C269.8,99.8 274.1,97.6 278.3,95.5 C282.6,93.4 286.8,91.6 291.1,90.0 C295.4,88.4 299.6,87.2 303.9,86.0 C308.1,84.8 312.4,84.0 316.6,83.0 C320.9,82.0 325.1,80.9 329.4,80.0 C333.6,79.1 337.9,78.3 342.1,77.5 C346.4,76.7 350.6,75.9 354.9,75.3 C359.1,74.7 365.5,74.0 367.6,73.8 M367.6,73.8 C369.8,73.8 376.1,73.7 380.4,73.8 C384.7,73.9 388.9,74.2 393.2,74.5 C397.4,74.8 401.7,75.0 405.9,75.8 C410.2,76.6 414.4,77.8 418.7,79.1 C422.9,80.4 427.2,82.0 431.4,83.7 C435.7,85.4 439.9,87.2 444.2,89.1 C448.4,91.0 452.7,93.0 456.9,95.0 C461.2,97.0 467.6,100.0 469.7,101.0" fill="none" stroke="#9C6500" stroke-width="3.4" stroke-linejoin="round" stroke-linecap="round"/>
<path d="M112.5,272.0 C114.6,269.2 121.0,260.5 125.3,255.0 C129.5,249.5 133.8,244.2 138.0,239.0 C142.3,233.8 146.5,228.8 150.8,224.0 C155.0,219.2 159.3,215.0 163.5,210.5 C167.8,206.0 172.0,201.4 176.3,197.0 C180.5,192.6 184.8,188.3 189.0,184.0 C193.3,179.7 197.5,175.2 201.8,171.0 C206.1,166.8 210.3,162.4 214.6,158.5 C218.8,154.6 223.1,151.1 227.3,147.5 C231.6,143.9 235.8,140.4 240.1,137.0 C244.3,133.6 248.6,130.2 252.8,127.0 C257.1,123.8 261.3,120.7 265.6,117.8 C269.8,114.9 274.1,112.1 278.3,109.5 C282.6,106.9 286.8,104.3 291.1,102.0 C295.4,99.7 299.6,97.5 303.9,95.5 C308.1,93.5 312.4,91.7 316.6,90.0 C320.9,88.3 325.1,86.9 329.4,85.5 C333.6,84.1 337.9,82.8 342.1,81.5 C346.4,80.2 350.6,79.2 354.9,78.0 C359.1,76.8 365.5,75.1 367.6,74.5 M367.6,74.5 C369.8,74.2 376.1,73.1 380.4,72.7 C384.7,72.3 388.9,72.2 393.2,72.2 C397.4,72.2 401.7,72.3 405.9,72.5 C410.2,72.6 414.4,72.7 418.7,73.1 C422.9,73.5 427.2,74.1 431.4,74.9 C435.7,75.6 439.9,76.6 444.2,77.8 C448.4,78.9 452.7,80.2 456.9,81.8 C461.2,83.3 467.6,86.2 469.7,87.1" fill="none" stroke="#FF0000" stroke-width="3.4" stroke-linejoin="round" stroke-linecap="round"/>
<path d="M380.4,1127.2 C382.5,1128.9 388.9,1134.3 393.2,1137.4 C397.4,1140.5 401.7,1143.3 405.9,1145.8 C410.2,1148.3 414.4,1150.5 418.7,1152.3 C422.9,1154.2 427.2,1155.6 431.4,1157.0 C435.7,1158.4 439.9,1159.6 444.2,1160.7 C448.4,1161.8 452.7,1162.8 456.9,1163.5 C461.2,1164.2 467.6,1164.7 469.7,1165.0" fill="none" stroke="#595959" stroke-width="3.0" stroke-dasharray="9.3 12.4" stroke-linecap="round"/>
<path d="M380.4,1221.2 C382.5,1223.5 388.9,1231.3 393.2,1235.2 C397.4,1239.0 401.7,1242.0 405.9,1244.5 C410.2,1247.0 414.4,1248.7 418.7,1250.0 C422.9,1251.4 427.2,1252.2 431.4,1252.8 C435.7,1253.5 439.9,1253.8 444.2,1254.1 C448.4,1254.5 452.7,1254.7 456.9,1254.9 C461.2,1255.0 467.6,1255.0 469.7,1255.1" fill="none" stroke="#595959" stroke-width="3.0" stroke-dasharray="9.3 12.4" stroke-linecap="round"/>
<path d="M380.4,736.7 C382.5,738.3 388.9,743.0 393.2,746.2 C397.4,749.3 401.7,752.8 405.9,755.6 C410.2,758.4 414.4,760.8 418.7,762.9 C422.9,765.0 427.2,766.7 431.4,768.1 C435.7,769.6 439.9,770.7 444.2,771.7 C448.4,772.7 452.7,773.5 456.9,774.0 C461.2,774.6 467.6,774.9 469.7,775.1" fill="none" stroke="#BFBFBF" stroke-width="3.0" stroke-dasharray="9.3 12.4" stroke-linecap="round"/>
<path d="M380.4,792.2 C382.5,794.7 388.9,802.7 393.2,806.9 C397.4,811.1 401.7,814.6 405.9,817.4 C410.2,820.2 414.4,822.1 418.7,823.6 C422.9,825.2 427.2,826.0 431.4,826.8 C435.7,827.6 439.9,827.9 444.2,828.3 C448.4,828.6 452.7,828.7 456.9,828.9 C461.2,829.0 467.6,829.1 469.7,829.1" fill="none" stroke="#BFBFBF" stroke-width="3.0" stroke-dasharray="9.3 12.4" stroke-linecap="round"/>
<path d="M380.4,465.0 C382.5,466.7 388.9,471.9 393.2,475.1 C397.4,478.2 401.7,481.2 405.9,483.9 C410.2,486.5 414.4,489.2 418.7,491.2 C422.9,493.2 427.2,494.7 431.4,496.0 C435.7,497.3 439.9,498.3 444.2,499.1 C448.4,500.0 452.7,500.6 456.9,501.2 C461.2,501.8 467.6,502.5 469.7,502.7" fill="none" stroke="#F8CBAD" stroke-width="3.0" stroke-dasharray="9.3 12.4" stroke-linecap="round"/>
<path d="M380.4,497.5 C382.5,499.6 388.9,506.2 393.2,510.0 C397.4,513.9 401.7,517.5 405.9,520.5 C410.2,523.5 414.4,525.8 418.7,527.8 C422.9,529.8 427.2,531.2 431.4,532.4 C435.7,533.7 439.9,534.4 444.2,535.2 C448.4,535.9 452.7,536.4 456.9,536.8 C461.2,537.3 467.6,537.7 469.7,537.9" fill="none" stroke="#F8CBAD" stroke-width="3.0" stroke-dasharray="9.3 12.4" stroke-linecap="round"/>
<path d="M380.4,284.9 C382.5,285.8 388.9,288.3 393.2,290.2 C397.4,292.0 401.7,294.0 405.9,296.0 C410.2,298.0 414.4,300.2 418.7,302.1 C422.9,304.0 427.2,305.9 431.4,307.6 C435.7,309.2 439.9,310.8 444.2,312.2 C448.4,313.5 452.7,314.6 456.9,315.5 C461.2,316.5 467.6,317.4 469.7,317.8" fill="none" stroke="#0070C0" stroke-width="3.0" stroke-dasharray="9.3 12.4" stroke-linecap="round"/>
<path d="M380.4,303.8 C382.5,305.4 388.9,310.1 393.2,313.2 C397.4,316.4 401.7,319.7 405.9,322.6 C410.2,325.6 414.4,328.6 418.7,331.0 C422.9,333.5 427.2,335.5 431.4,337.3 C435.7,339.0 439.9,340.4 444.2,341.5 C448.4,342.6 452.7,343.4 456.9,344.0 C461.2,344.6 467.6,345.0 469.7,345.2" fill="none" stroke="#0070C0" stroke-width="3.0" stroke-dasharray="9.3 12.4" stroke-linecap="round"/>
<path d="M380.4,166.4 C382.5,167.1 388.9,169.2 393.2,170.6 C397.4,172.0 401.7,173.3 405.9,174.8 C410.2,176.2 414.4,177.8 418.7,179.4 C422.9,180.9 427.2,182.5 431.4,184.0 C435.7,185.4 439.9,186.8 444.2,188.2 C448.4,189.5 452.7,190.8 456.9,191.9 C461.2,193.0 467.6,194.2 469.7,194.7" fill="none" stroke="#ED7D31" stroke-width="3.0" stroke-dasharray="9.3 12.4" stroke-linecap="round"/>
<path d="M380.4,179.4 C382.5,180.6 388.9,184.2 393.2,186.7 C397.4,189.1 401.7,191.6 405.9,194.0 C410.2,196.5 414.4,199.1 418.7,201.3 C422.9,203.6 427.2,205.5 431.4,207.6 C435.7,209.7 439.9,212.1 444.2,213.9 C448.4,215.8 452.7,217.3 456.9,218.7 C461.2,220.1 467.6,221.7 469.7,222.3" fill="none" stroke="#ED7D31" stroke-width="3.0" stroke-dasharray="9.3 12.4" stroke-linecap="round"/>
<path d="M380.4,98.2 C382.5,98.6 388.9,99.7 393.2,100.3 C397.4,100.9 401.7,101.3 405.9,102.0 C410.2,102.6 414.4,103.4 418.7,104.2 C422.9,105.1 427.2,106.1 431.4,107.1 C435.7,108.0 439.9,108.9 444.2,109.9 C448.4,110.9 452.7,112.0 456.9,113.0 C461.2,113.9 467.6,115.1 469.7,115.6" fill="none" stroke="#00B050" stroke-width="3.0" stroke-dasharray="9.3 12.4" stroke-linecap="round"/>
<path d="M380.4,111.0 C382.5,111.8 388.9,114.1 393.2,115.6 C397.4,117.1 401.7,118.3 405.9,120.1 C410.2,121.9 414.4,124.1 418.7,126.3 C422.9,128.6 427.2,131.2 431.4,133.7 C435.7,136.1 439.9,138.9 444.2,141.1 C448.4,143.2 452.7,145.0 456.9,146.7 C461.2,148.4 467.6,150.5 469.7,151.2" fill="none" stroke="#00B050" stroke-width="3.0" stroke-dasharray="9.3 12.4" stroke-linecap="round"/>
<path d="M380.4,69.0 C382.5,68.9 388.9,68.6 393.2,68.5 C397.4,68.4 401.7,68.4 405.9,68.5 C410.2,68.6 414.4,68.8 418.7,69.0 C422.9,69.2 427.2,69.6 431.4,70.0 C435.7,70.4 439.9,70.9 444.2,71.5 C448.4,72.1 452.7,72.8 456.9,73.5 C461.2,74.2 467.6,75.2 469.7,75.5" fill="none" stroke="#996633" stroke-width="3.0" stroke-dasharray="9.3 12.4" stroke-linecap="round"/>
<path d="M380.4,81.5 C382.5,82.2 388.9,84.2 393.2,85.5 C397.4,86.8 401.7,88.0 405.9,89.5 C410.2,91.0 414.4,92.8 418.7,94.5 C422.9,96.2 427.2,98.0 431.4,100.0 C435.7,102.0 439.9,104.3 444.2,106.5 C448.4,108.7 452.7,111.1 456.9,113.0 C461.2,114.9 467.6,117.2 469.7,118.0" fill="none" stroke="#996633" stroke-width="3.0" stroke-dasharray="9.3 12.4" stroke-linecap="round"/>
<path d="M380.4,65.8 C382.5,65.5 388.9,64.5 393.2,63.8 C397.4,63.2 401.7,62.5 405.9,61.9 C410.2,61.2 414.4,60.5 418.7,59.9 C422.9,59.2 427.2,58.4 431.4,57.9 C435.7,57.3 439.9,56.9 444.2,56.5 C448.4,56.1 452.7,55.7 456.9,55.5 C461.2,55.2 467.6,55.0 469.7,55.0" fill="none" stroke="#FF0000" stroke-width="3.0" stroke-dasharray="9.3 12.4" stroke-linecap="round"/>
<path d="M380.4,79.8 C382.5,80.1 388.9,81.0 393.2,81.8 C397.4,82.5 401.7,83.4 405.9,84.4 C410.2,85.4 414.4,86.5 418.7,87.7 C422.9,88.9 427.2,90.2 431.4,91.7 C435.7,93.3 439.9,95.1 444.2,97.0 C448.4,98.9 452.7,100.9 456.9,103.0 C461.2,105.1 467.6,108.5 469.7,109.6" fill="none" stroke="#FF0000" stroke-width="3.0" stroke-dasharray="9.3 12.4" stroke-linecap="round"/>
<path d="M380.4,81.8 C382.5,81.0 388.9,78.8 393.2,77.1 C397.4,75.5 401.7,73.5 405.9,71.8 C410.2,70.1 414.4,68.8 418.7,67.2 C422.9,65.5 427.2,63.5 431.4,61.9 C435.7,60.2 439.9,58.8 444.2,57.2 C448.4,55.7 452.7,54.0 456.9,52.6 C461.2,51.1 467.6,49.2 469.7,48.6" fill="none" stroke="#FFC000" stroke-width="3.0" stroke-dasharray="9.3 12.4" stroke-linecap="round"/>
<path d="M380.4,95.0 C382.5,95.1 388.9,95.2 393.2,95.4 C397.4,95.7 401.7,95.9 405.9,96.4 C410.2,96.8 414.4,97.5 418.7,98.3 C422.9,99.2 427.2,100.3 431.4,101.7 C435.7,103.0 439.9,104.7 444.2,106.3 C448.4,108.0 452.7,109.7 456.9,111.6 C461.2,113.5 467.6,116.6 469.7,117.6" fill="none" stroke="#FFC000" stroke-width="3.0" stroke-dasharray="9.3 12.4" stroke-linecap="round"/>
<path d="M380.4,111.0 C382.5,109.7 388.9,106.1 393.2,103.7 C397.4,101.2 401.7,98.9 405.9,96.4 C410.2,93.8 414.4,91.0 418.7,88.4 C422.9,85.7 427.2,83.1 431.4,80.4 C435.7,77.8 439.9,75.1 444.2,72.5 C448.4,69.8 452.7,67.2 456.9,64.5 C461.2,61.9 467.6,57.9 469.7,56.5" fill="none" stroke="#7030A0" stroke-width="3.0" stroke-dasharray="9.3 12.4" stroke-linecap="round"/>
<path d="M380.4,124.9 C382.5,124.8 388.9,124.4 393.2,124.2 C397.4,124.1 401.7,123.9 405.9,124.0 C410.2,124.0 414.4,124.1 418.7,124.5 C422.9,124.9 427.2,125.5 431.4,126.2 C435.7,127.0 439.9,127.8 444.2,128.9 C448.4,130.0 452.7,131.4 456.9,132.8 C461.2,134.3 467.6,136.7 469.7,137.5" fill="none" stroke="#7030A0" stroke-width="3.0" stroke-dasharray="9.3 12.4" stroke-linecap="round"/>
<path d="M367.6,148.8 C369.8,148.0 376.1,146.1 380.4,144.1 C384.7,142.1 388.9,139.6 393.2,136.8 C397.4,134.0 401.7,130.9 405.9,127.5 C410.2,124.1 414.4,120.2 418.7,116.3 C422.9,112.4 427.2,108.9 431.4,104.3 C435.7,99.7 439.9,93.7 444.2,88.4 C448.4,83.1 454.8,75.2 456.9,72.5" fill="none" stroke="#C00000" stroke-width="3.0" stroke-dasharray="9.3 12.4" stroke-linecap="round"/>
<path d="M380.4,166.7 C382.5,166.4 388.9,165.3 393.2,164.7 C397.4,164.1 401.7,163.5 405.9,163.1 C410.2,162.7 414.4,162.5 418.7,162.3 C422.9,162.2 427.2,162.2 431.4,162.3 C435.7,162.5 439.9,162.6 444.2,163.1 C448.4,163.6 452.7,164.3 456.9,165.1 C461.2,165.9 467.6,167.5 469.7,168.0" fill="none" stroke="#C00000" stroke-width="3.0" stroke-dasharray="9.3 12.4" stroke-linecap="round"/>
<path d="M380.4,198.6 C382.5,197.3 388.9,193.9 393.2,191.2 C397.4,188.6 401.7,185.8 405.9,182.6 C410.2,179.4 414.4,176.0 418.7,172.0 C422.9,168.0 427.2,163.6 431.4,158.7 C435.7,153.9 439.9,148.8 444.2,142.8 C448.4,136.8 452.7,130.2 456.9,122.9 C461.2,115.6 467.6,103.0 469.7,99.0" fill="none" stroke="#92D050" stroke-width="3.0" stroke-dasharray="9.3 12.4" stroke-linecap="round"/>
<path d="M380.4,223.1 C382.5,222.7 388.9,221.3 393.2,220.4 C397.4,219.6 401.7,218.6 405.9,217.8 C410.2,217.0 414.4,216.4 418.7,215.8 C422.9,215.2 427.2,214.6 431.4,214.2 C435.7,213.8 439.9,213.5 444.2,213.4 C448.4,213.3 452.7,213.3 456.9,213.4 C461.2,213.5 467.6,214.1 469.7,214.2" fill="none" stroke="#92D050" stroke-width="3.0" stroke-dasharray="9.3 12.4" stroke-linecap="round"/>
</g>
<g id="panel-birth-cohort">
<rect x="570.7" y="12.35" width="972.90" height="1347.55" fill="none" stroke="#6f6f6f" stroke-width="1.7"/>
<path d="M570.8,394.4 L582.5,350.0 L594.2,368.5 L606.0,419.4 L617.7,349.3 L629.4,298.8 L641.1,328.7 L652.8,313.1 L664.6,409.6 L676.3,327.1 L688.0,323.8 L699.7,341.4 L711.4,308.1 L723.2,260.9 L734.9,256.2 L746.6,293.7 L758.3,255.7 L770.0,243.8 L781.7,240.8 L793.5,228.2 L805.2,236.8" fill="none" stroke="#92D050" stroke-width="3.0" stroke-linejoin="round" stroke-linecap="round"/>
<circle cx="570.8" cy="394.4" r="6.2" fill="#A9D18E"/>
<circle cx="582.5" cy="350.0" r="6.2" fill="#A9D18E"/>
<circle cx="594.2" cy="368.5" r="6.2" fill="#A9D18E"/>
<circle cx="606.0" cy="419.4" r="6.2" fill="#A9D18E"/>
<circle cx="617.7" cy="349.3" r="6.2" fill="#A9D18E"/>
<circle cx="629.4" cy="298.8" r="6.2" fill="#A9D18E"/>
<circle cx="641.1" cy="328.7" r="6.2" fill="#A9D18E"/>
<circle cx="652.8" cy="313.1" r="6.2" fill="#A9D18E"/>
<circle cx="664.6" cy="409.6" r="6.2" fill="#A9D18E"/>
<circle cx="676.3" cy="327.1" r="6.2" fill="#A9D18E"/>
<circle cx="688.0" cy="323.8" r="6.2" fill="#A9D18E"/>
<circle cx="699.7" cy="341.4" r="6.2" fill="#A9D18E"/>
<circle cx="711.4" cy="308.1" r="6.2" fill="#A9D18E"/>
<circle cx="723.2" cy="260.9" r="6.2" fill="#A9D18E"/>
<circle cx="734.9" cy="256.2" r="6.2" fill="#A9D18E"/>
<circle cx="746.6" cy="293.7" r="6.2" fill="#A9D18E"/>
<circle cx="758.3" cy="255.7" r="6.2" fill="#A9D18E"/>
<circle cx="770.0" cy="243.8" r="6.2" fill="#A9D18E"/>
<circle cx="781.7" cy="240.8" r="6.2" fill="#A9D18E"/>
<circle cx="793.5" cy="228.2" r="6.2" fill="#A9D18E"/>
<circle cx="805.2" cy="236.8" r="6.2" fill="#A9D18E"/>
<path d="M629.4,377.4 L641.1,382.7 L652.8,352.9 L664.6,361.9 L676.3,379.4 L688.0,342.4 L699.7,338.1 L711.4,317.2 L723.2,308.1 L734.9,276.8 L746.6,279.0 L758.3,271.5 L770.0,226.8 L781.7,205.3 L793.5,216.8 L805.2,213.6 L816.9,183.9 L828.6,164.4 L840.3,180.1 L852.1,179.1 L863.8,169.7" fill="none" stroke="#C00000" stroke-width="3.0" stroke-linejoin="round" stroke-linecap="round"/>
<circle cx="629.4" cy="377.4" r="6.2" fill="#D03A07"/>
<circle cx="641.1" cy="382.7" r="6.2" fill="#D03A07"/>
<circle cx="652.8" cy="352.9" r="6.2" fill="#D03A07"/>
<circle cx="664.6" cy="361.9" r="6.2" fill="#D03A07"/>
<circle cx="676.3" cy="379.4" r="6.2" fill="#D03A07"/>
<circle cx="688.0" cy="342.4" r="6.2" fill="#D03A07"/>
<circle cx="699.7" cy="338.1" r="6.2" fill="#D03A07"/>
<circle cx="711.4" cy="317.2" r="6.2" fill="#D03A07"/>
<circle cx="723.2" cy="308.1" r="6.2" fill="#D03A07"/>
<circle cx="734.9" cy="276.8" r="6.2" fill="#D03A07"/>
<circle cx="746.6" cy="279.0" r="6.2" fill="#D03A07"/>
<circle cx="758.3" cy="271.5" r="6.2" fill="#D03A07"/>
<circle cx="770.0" cy="226.8" r="6.2" fill="#D03A07"/>
<circle cx="781.7" cy="205.3" r="6.2" fill="#D03A07"/>
<circle cx="793.5" cy="216.8" r="6.2" fill="#D03A07"/>
<circle cx="805.2" cy="213.6" r="6.2" fill="#D03A07"/>
<circle cx="816.9" cy="183.9" r="6.2" fill="#D03A07"/>
<circle cx="828.6" cy="164.4" r="6.2" fill="#D03A07"/>
<circle cx="840.3" cy="180.1" r="6.2" fill="#D03A07"/>
<circle cx="852.1" cy="179.1" r="6.2" fill="#D03A07"/>
<circle cx="863.8" cy="169.7" r="6.2" fill="#D03A07"/>
<path d="M688.0,352.9 L699.7,331.8 L711.4,321.1 L723.2,310.5 L734.9,323.1 L746.6,282.7 L758.3,275.4 L770.0,230.7 L781.7,241.3 L793.5,206.8 L805.2,214.8 L816.9,161.9 L828.6,176.1 L840.3,166.9 L852.1,173.9 L863.8,143.6 L875.5,134.3 L887.2,147.9 L898.9,130.5 L910.7,118.6 L922.4,150.5" fill="none" stroke="#7030A0" stroke-width="3.0" stroke-linejoin="round" stroke-linecap="round"/>
<circle cx="688.0" cy="352.9" r="6.2" fill="#7030A0"/>
<circle cx="699.7" cy="331.8" r="6.2" fill="#7030A0"/>
<circle cx="711.4" cy="321.1" r="6.2" fill="#7030A0"/>
<circle cx="723.2" cy="310.5" r="6.2" fill="#7030A0"/>
<circle cx="734.9" cy="323.1" r="6.2" fill="#7030A0"/>
<circle cx="746.6" cy="282.7" r="6.2" fill="#7030A0"/>
<circle cx="758.3" cy="275.4" r="6.2" fill="#7030A0"/>
<circle cx="770.0" cy="230.7" r="6.2" fill="#7030A0"/>
<circle cx="781.7" cy="241.3" r="6.2" fill="#7030A0"/>
<circle cx="793.5" cy="206.8" r="6.2" fill="#7030A0"/>
<circle cx="805.2" cy="214.8" r="6.2" fill="#7030A0"/>
<circle cx="816.9" cy="161.9" r="6.2" fill="#7030A0"/>
<circle cx="828.6" cy="176.1" r="6.2" fill="#7030A0"/>
<circle cx="840.3" cy="166.9" r="6.2" fill="#7030A0"/>
<circle cx="852.1" cy="173.9" r="6.2" fill="#7030A0"/>
<circle cx="863.8" cy="143.6" r="6.2" fill="#7030A0"/>
<circle cx="875.5" cy="134.3" r="6.2" fill="#7030A0"/>
<circle cx="887.2" cy="147.9" r="6.2" fill="#7030A0"/>
<circle cx="898.9" cy="130.5" r="6.2" fill="#7030A0"/>
<circle cx="910.7" cy="118.6" r="6.2" fill="#7030A0"/>
<circle cx="922.4" cy="150.5" r="6.2" fill="#7030A0"/>
<path d="M746.6,332.4 L758.3,326.4 L770.0,259.9 L781.7,239.8 L793.5,237.8 L805.2,216.4 L816.9,211.8 L828.6,170.7 L840.3,212.1 L852.1,151.9 L863.8,148.4 L875.5,136.0 L887.2,124.6 L898.9,107.0 L910.7,136.5 L922.4,122.0 L934.1,126.8 L945.8,113.0 L957.5,118.3 L969.3,115.0 L981.0,108.2" fill="none" stroke="#FFC000" stroke-width="3.0" stroke-linejoin="round" stroke-linecap="round"/>
<circle cx="746.6" cy="332.4" r="6.2" fill="#FFC000"/>
<circle cx="758.3" cy="326.4" r="6.2" fill="#FFC000"/>
<circle cx="770.0" cy="259.9" r="6.2" fill="#FFC000"/>
<circle cx="781.7" cy="239.8" r="6.2" fill="#FFC000"/>
<circle cx="793.5" cy="237.8" r="6.2" fill="#FFC000"/>
<circle cx="805.2" cy="216.4" r="6.2" fill="#FFC000"/>
<circle cx="816.9" cy="211.8" r="6.2" fill="#FFC000"/>
<circle cx="828.6" cy="170.7" r="6.2" fill="#FFC000"/>
<circle cx="840.3" cy="212.1" r="6.2" fill="#FFC000"/>
<circle cx="852.1" cy="151.9" r="6.2" fill="#FFC000"/>
<circle cx="863.8" cy="148.4" r="6.2" fill="#FFC000"/>
<circle cx="875.5" cy="136.0" r="6.2" fill="#FFC000"/>
<circle cx="887.2" cy="124.6" r="6.2" fill="#FFC000"/>
<circle cx="898.9" cy="107.0" r="6.2" fill="#FFC000"/>
<circle cx="910.7" cy="136.5" r="6.2" fill="#FFC000"/>
<circle cx="922.4" cy="122.0" r="6.2" fill="#FFC000"/>
<circle cx="934.1" cy="126.8" r="6.2" fill="#FFC000"/>
<circle cx="945.8" cy="113.0" r="6.2" fill="#FFC000"/>
<circle cx="957.5" cy="118.3" r="6.2" fill="#FFC000"/>
<circle cx="969.3" cy="115.0" r="6.2" fill="#FFC000"/>
<circle cx="981.0" cy="108.2" r="6.2" fill="#FFC000"/>
<path d="M805.2,259.7 L816.9,239.4 L828.6,209.3 L840.3,217.8 L852.1,198.8 L863.8,192.9 L875.5,176.3 L887.2,138.5 L898.9,151.9 L910.7,136.3 L922.4,125.7 L934.1,139.0 L945.8,97.0 L957.5,111.5 L969.3,109.1 L981.0,99.0 L992.7,87.6 L1004.4,104.0 L1016.1,93.0 L1027.9,80.1 L1039.6,90.5" fill="none" stroke="#FF0000" stroke-width="3.0" stroke-linejoin="round" stroke-linecap="round"/>
<circle cx="805.2" cy="259.7" r="6.2" fill="#FF0000"/>
<circle cx="816.9" cy="239.4" r="6.2" fill="#FF0000"/>
<circle cx="828.6" cy="209.3" r="6.2" fill="#FF0000"/>
<circle cx="840.3" cy="217.8" r="6.2" fill="#FF0000"/>
<circle cx="852.1" cy="198.8" r="6.2" fill="#FF0000"/>
<circle cx="863.8" cy="192.9" r="6.2" fill="#FF0000"/>
<circle cx="875.5" cy="176.3" r="6.2" fill="#FF0000"/>
<circle cx="887.2" cy="138.5" r="6.2" fill="#FF0000"/>
<circle cx="898.9" cy="151.9" r="6.2" fill="#FF0000"/>
<circle cx="910.7" cy="136.3" r="6.2" fill="#FF0000"/>
<circle cx="922.4" cy="125.7" r="6.2" fill="#FF0000"/>
<circle cx="934.1" cy="139.0" r="6.2" fill="#FF0000"/>
<circle cx="945.8" cy="97.0" r="6.2" fill="#FF0000"/>
<circle cx="957.5" cy="111.5" r="6.2" fill="#FF0000"/>
<circle cx="969.3" cy="109.1" r="6.2" fill="#FF0000"/>
<circle cx="981.0" cy="99.0" r="6.2" fill="#FF0000"/>
<circle cx="992.7" cy="87.6" r="6.2" fill="#FF0000"/>
<circle cx="1004.4" cy="104.0" r="6.2" fill="#FF0000"/>
<circle cx="1016.1" cy="93.0" r="6.2" fill="#FF0000"/>
<circle cx="1027.9" cy="80.1" r="6.2" fill="#FF0000"/>
<circle cx="1039.6" cy="90.5" r="6.2" fill="#FF0000"/>
<path d="M863.8,248.8 L875.5,231.7 L887.2,186.0 L898.9,173.4 L910.7,192.6 L922.4,163.4 L934.1,185.3 L945.8,167.4 L957.5,173.4 L969.3,146.9 L981.0,133.5 L992.7,113.0 L1004.4,118.0 L1016.1,109.0 L1027.9,104.5 L1039.6,97.5 L1051.3,99.0 L1063.0,77.1 L1074.7,68.6 L1086.4,71.1 L1098.2,74.8" fill="none" stroke="#996633" stroke-width="2.6" stroke-linejoin="round" stroke-linecap="round"/>
<circle cx="863.8" cy="248.8" r="5.7" fill="#9C6500" stroke="#996633" stroke-width="1"/>
<circle cx="875.5" cy="231.7" r="5.7" fill="#9C6500" stroke="#996633" stroke-width="1"/>
<circle cx="887.2" cy="186.0" r="5.7" fill="#9C6500" stroke="#996633" stroke-width="1"/>
<circle cx="898.9" cy="173.4" r="5.7" fill="#9C6500" stroke="#996633" stroke-width="1"/>
<circle cx="910.7" cy="192.6" r="5.7" fill="#9C6500" stroke="#996633" stroke-width="1"/>
<circle cx="922.4" cy="163.4" r="5.7" fill="#9C6500" stroke="#996633" stroke-width="1"/>
<circle cx="934.1" cy="185.3" r="5.7" fill="#9C6500" stroke="#996633" stroke-width="1"/>
<circle cx="945.8" cy="167.4" r="5.7" fill="#9C6500" stroke="#996633" stroke-width="1"/>
<circle cx="957.5" cy="173.4" r="5.7" fill="#9C6500" stroke="#996633" stroke-width="1"/>
<circle cx="969.3" cy="146.9" r="5.7" fill="#9C6500" stroke="#996633" stroke-width="1"/>
<circle cx="981.0" cy="133.5" r="5.7" fill="#9C6500" stroke="#996633" stroke-width="1"/>
<circle cx="992.7" cy="113.0" r="5.7" fill="#9C6500" stroke="#996633" stroke-width="1"/>
<circle cx="1004.4" cy="118.0" r="5.7" fill="#9C6500" stroke="#996633" stroke-width="1"/>
<circle cx="1016.1" cy="109.0" r="5.7" fill="#9C6500" stroke="#996633" stroke-width="1"/>
<circle cx="1027.9" cy="104.5" r="5.7" fill="#9C6500" stroke="#996633" stroke-width="1"/>
<circle cx="1039.6" cy="97.5" r="5.7" fill="#9C6500" stroke="#996633" stroke-width="1"/>
<circle cx="1051.3" cy="99.0" r="5.7" fill="#9C6500" stroke="#996633" stroke-width="1"/>
<circle cx="1063.0" cy="77.1" r="5.7" fill="#9C6500" stroke="#996633" stroke-width="1"/>
<circle cx="1074.7" cy="68.6" r="5.7" fill="#9C6500" stroke="#996633" stroke-width="1"/>
<circle cx="1086.4" cy="71.1" r="5.7" fill="#9C6500" stroke="#996633" stroke-width="1"/>
<circle cx="1098.2" cy="74.8" r="5.7" fill="#9C6500" stroke="#996633" stroke-width="1"/>
<path d="M922.4,254.1 L934.1,229.8 L945.8,202.3 L957.5,209.5 L969.3,214.1 L981.0,206.4 L992.7,164.2 L1004.4,163.7 L1016.1,160.2 L1027.9,152.6 L1039.6,135.8 L1051.3,119.1 L1063.0,119.4 L1074.7,106.5 L1086.4,95.5 L1098.2,98.4 L1109.9,93.3 L1121.6,91.0 L1133.3,95.5 L1145.0,85.9 L1156.8,105.1" fill="none" stroke="#00B050" stroke-width="3.6" stroke-linejoin="round" stroke-linecap="round"/>
<circle cx="922.4" cy="254.1" r="6.2" fill="#00B050"/>
<circle cx="934.1" cy="229.8" r="6.2" fill="#00B050"/>
<circle cx="945.8" cy="202.3" r="6.2" fill="#00B050"/>
<circle cx="957.5" cy="209.5" r="6.2" fill="#00B050"/>
<circle cx="969.3" cy="214.1" r="6.2" fill="#00B050"/>
<circle cx="981.0" cy="206.4" r="6.2" fill="#00B050"/>
<circle cx="992.7" cy="164.2" r="6.2" fill="#00B050"/>
<circle cx="1004.4" cy="163.7" r="6.2" fill="#00B050"/>
<circle cx="1016.1" cy="160.2" r="6.2" fill="#00B050"/>
<circle cx="1027.9" cy="152.6" r="6.2" fill="#00B050"/>
<circle cx="1039.6" cy="135.8" r="6.2" fill="#00B050"/>
<circle cx="1051.3" cy="119.1" r="6.2" fill="#00B050"/>
<circle cx="1063.0" cy="119.4" r="6.2" fill="#00B050"/>
<circle cx="1074.7" cy="106.5" r="6.2" fill="#00B050"/>
<circle cx="1086.4" cy="95.5" r="6.2" fill="#00B050"/>
<circle cx="1098.2" cy="98.4" r="6.2" fill="#00B050"/>
<circle cx="1109.9" cy="93.3" r="6.2" fill="#00B050"/>
<circle cx="1121.6" cy="91.0" r="6.2" fill="#00B050"/>
<circle cx="1133.3" cy="95.5" r="6.2" fill="#00B050"/>
<circle cx="1145.0" cy="85.9" r="6.2" fill="#00B050"/>
<circle cx="1156.8" cy="105.1" r="6.2" fill="#00B050"/>
<path d="M981.0,314.4 L992.7,296.8 L1004.4,269.0 L1016.1,247.7 L1027.9,243.1 L1039.6,238.3 L1051.3,208.0 L1063.0,186.9 L1074.7,193.4 L1086.4,183.7 L1098.2,179.6 L1109.9,178.1 L1121.6,144.7 L1133.3,156.6 L1145.0,145.7 L1156.8,150.3 L1168.5,141.5 L1180.2,136.9 L1191.9,145.1 L1203.6,155.1 L1215.4,157.6" fill="none" stroke="#ED7D31" stroke-width="3.0" stroke-linejoin="round" stroke-linecap="round"/>
<circle cx="981.0" cy="314.4" r="6.2" fill="#ED7D31"/>
<circle cx="992.7" cy="296.8" r="6.2" fill="#ED7D31"/>
<circle cx="1004.4" cy="269.0" r="6.2" fill="#ED7D31"/>
<circle cx="1016.1" cy="247.7" r="6.2" fill="#ED7D31"/>
<circle cx="1027.9" cy="243.1" r="6.2" fill="#ED7D31"/>
<circle cx="1039.6" cy="238.3" r="6.2" fill="#ED7D31"/>
<circle cx="1051.3" cy="208.0" r="6.2" fill="#ED7D31"/>
<circle cx="1063.0" cy="186.9" r="6.2" fill="#ED7D31"/>
<circle cx="1074.7" cy="193.4" r="6.2" fill="#ED7D31"/>
<circle cx="1086.4" cy="183.7" r="6.2" fill="#ED7D31"/>
<circle cx="1098.2" cy="179.6" r="6.2" fill="#ED7D31"/>
<circle cx="1109.9" cy="178.1" r="6.2" fill="#ED7D31"/>
<circle cx="1121.6" cy="144.7" r="6.2" fill="#ED7D31"/>
<circle cx="1133.3" cy="156.6" r="6.2" fill="#ED7D31"/>
<circle cx="1145.0" cy="145.7" r="6.2" fill="#ED7D31"/>
<circle cx="1156.8" cy="150.3" r="6.2" fill="#ED7D31"/>
<circle cx="1168.5" cy="141.5" r="6.2" fill="#ED7D31"/>
<circle cx="1180.2" cy="136.9" r="6.2" fill="#ED7D31"/>
<circle cx="1191.9" cy="145.1" r="6.2" fill="#ED7D31"/>
<circle cx="1203.6" cy="155.1" r="6.2" fill="#ED7D31"/>
<circle cx="1215.4" cy="157.6" r="6.2" fill="#ED7D31"/>
<path d="M1039.6,390.7 L1051.3,359.8 L1063.0,332.2 L1074.7,332.6 L1086.4,324.6 L1098.2,323.6 L1109.9,303.3 L1121.6,263.6 L1133.3,275.1 L1145.0,247.9 L1156.8,236.0 L1168.5,239.2 L1180.2,225.6 L1191.9,223.3 L1203.6,212.4 L1215.4,222.2 L1227.1,237.5 L1238.8,228.9 L1250.5,228.3 L1262.2,253.2 L1274.0,268.8" fill="none" stroke="#0070C0" stroke-width="3.0" stroke-linejoin="round" stroke-linecap="round"/>
<circle cx="1039.6" cy="390.7" r="6.2" fill="#0070C0"/>
<circle cx="1051.3" cy="359.8" r="6.2" fill="#0070C0"/>
<circle cx="1063.0" cy="332.2" r="6.2" fill="#0070C0"/>
<circle cx="1074.7" cy="332.6" r="6.2" fill="#0070C0"/>
<circle cx="1086.4" cy="324.6" r="6.2" fill="#0070C0"/>
<circle cx="1098.2" cy="323.6" r="6.2" fill="#0070C0"/>
<circle cx="1109.9" cy="303.3" r="6.2" fill="#0070C0"/>
<circle cx="1121.6" cy="263.6" r="6.2" fill="#0070C0"/>
<circle cx="1133.3" cy="275.1" r="6.2" fill="#0070C0"/>
<circle cx="1145.0" cy="247.9" r="6.2" fill="#0070C0"/>
<circle cx="1156.8" cy="236.0" r="6.2" fill="#0070C0"/>
<circle cx="1168.5" cy="239.2" r="6.2" fill="#0070C0"/>
<circle cx="1180.2" cy="225.6" r="6.2" fill="#0070C0"/>
<circle cx="1191.9" cy="223.3" r="6.2" fill="#0070C0"/>
<circle cx="1203.6" cy="212.4" r="6.2" fill="#0070C0"/>
<circle cx="1215.4" cy="222.2" r="6.2" fill="#0070C0"/>
<circle cx="1227.1" cy="237.5" r="6.2" fill="#0070C0"/>
<circle cx="1238.8" cy="228.9" r="6.2" fill="#0070C0"/>
<circle cx="1250.5" cy="228.3" r="6.2" fill="#0070C0"/>
<circle cx="1262.2" cy="253.2" r="6.2" fill="#0070C0"/>
<circle cx="1274.0" cy="268.8" r="6.2" fill="#0070C0"/>
<path d="M1098.2,501.4 L1109.9,491.4 L1121.6,501.9 L1133.3,456.3 L1145.0,448.6 L1156.8,468.0 L1168.5,416.8 L1180.2,405.7 L1191.9,396.9 L1203.6,365.4 L1215.4,358.0 L1227.1,373.9 L1238.8,341.9 L1250.5,369.3 L1262.2,382.1 L1274.0,384.4 L1285.7,423.9 L1297.4,428.5 L1309.1,452.9 L1320.8,453.8 L1332.6,483.7" fill="none" stroke="#F8CBAD" stroke-width="3.0" stroke-linejoin="round" stroke-linecap="round"/>
<circle cx="1098.2" cy="501.4" r="6.2" fill="#F8CBAD"/>
<circle cx="1109.9" cy="491.4" r="6.2" fill="#F8CBAD"/>
<circle cx="1121.6" cy="501.9" r="6.2" fill="#F8CBAD"/>
<circle cx="1133.3" cy="456.3" r="6.2" fill="#F8CBAD"/>
<circle cx="1145.0" cy="448.6" r="6.2" fill="#F8CBAD"/>
<circle cx="1156.8" cy="468.0" r="6.2" fill="#F8CBAD"/>
<circle cx="1168.5" cy="416.8" r="6.2" fill="#F8CBAD"/>
<circle cx="1180.2" cy="405.7" r="6.2" fill="#F8CBAD"/>
<circle cx="1191.9" cy="396.9" r="6.2" fill="#F8CBAD"/>
<circle cx="1203.6" cy="365.4" r="6.2" fill="#F8CBAD"/>
<circle cx="1215.4" cy="358.0" r="6.2" fill="#F8CBAD"/>
<circle cx="1227.1" cy="373.9" r="6.2" fill="#F8CBAD"/>
<circle cx="1238.8" cy="341.9" r="6.2" fill="#F8CBAD"/>
<circle cx="1250.5" cy="369.3" r="6.2" fill="#F8CBAD"/>
<circle cx="1262.2" cy="382.1" r="6.2" fill="#F8CBAD"/>
<circle cx="1274.0" cy="384.4" r="6.2" fill="#F8CBAD"/>
<circle cx="1285.7" cy="423.9" r="6.2" fill="#F8CBAD"/>
<circle cx="1297.4" cy="428.5" r="6.2" fill="#F8CBAD"/>
<circle cx="1309.1" cy="452.9" r="6.2" fill="#F8CBAD"/>
<circle cx="1320.8" cy="453.8" r="6.2" fill="#F8CBAD"/>
<circle cx="1332.6" cy="483.7" r="6.2" fill="#F8CBAD"/>
<path d="M1156.8,700.3 L1168.5,661.7 L1180.2,649.5 L1191.9,658.7 L1203.6,655.6 L1215.4,617.6 L1227.1,564.9 L1238.8,569.9 L1250.5,581.4 L1262.2,598.7 L1274.0,603.5 L1285.7,613.0 L1297.4,596.4 L1309.1,645.8 L1320.8,594.8 L1332.6,644.3 L1344.3,682.1 L1356.0,712.7 L1367.7,741.7 L1379.4,776.2 L1391.1,740.3" fill="none" stroke="#BFBFBF" stroke-width="3.0" stroke-linejoin="round" stroke-linecap="round"/>
<circle cx="1156.8" cy="700.3" r="6.2" fill="#BFBFBF"/>
<circle cx="1168.5" cy="661.7" r="6.2" fill="#BFBFBF"/>
<circle cx="1180.2" cy="649.5" r="6.2" fill="#BFBFBF"/>
<circle cx="1191.9" cy="658.7" r="6.2" fill="#BFBFBF"/>
<circle cx="1203.6" cy="655.6" r="6.2" fill="#BFBFBF"/>
<circle cx="1215.4" cy="617.6" r="6.2" fill="#BFBFBF"/>
<circle cx="1227.1" cy="564.9" r="6.2" fill="#BFBFBF"/>
<circle cx="1238.8" cy="569.9" r="6.2" fill="#BFBFBF"/>
<circle cx="1250.5" cy="581.4" r="6.2" fill="#BFBFBF"/>
<circle cx="1262.2" cy="598.7" r="6.2" fill="#BFBFBF"/>
<circle cx="1274.0" cy="603.5" r="6.2" fill="#BFBFBF"/>
<circle cx="1285.7" cy="613.0" r="6.2" fill="#BFBFBF"/>
<circle cx="1297.4" cy="596.4" r="6.2" fill="#BFBFBF"/>
<circle cx="1309.1" cy="645.8" r="6.2" fill="#BFBFBF"/>
<circle cx="1320.8" cy="594.8" r="6.2" fill="#BFBFBF"/>
<circle cx="1332.6" cy="644.3" r="6.2" fill="#BFBFBF"/>
<circle cx="1344.3" cy="682.1" r="6.2" fill="#BFBFBF"/>
<circle cx="1356.0" cy="712.7" r="6.2" fill="#BFBFBF"/>
<circle cx="1367.7" cy="741.7" r="6.2" fill="#BFBFBF"/>
<circle cx="1379.4" cy="776.2" r="6.2" fill="#BFBFBF"/>
<circle cx="1391.1" cy="740.3" r="6.2" fill="#BFBFBF"/>
<path d="M1215.4,1057.8 L1227.1,918.6 L1238.8,908.8 L1250.5,919.9 L1262.2,912.4 L1274.0,862.8 L1285.7,941.8 L1297.4,921.1 L1309.1,939.1 L1320.8,992.0 L1332.6,1002.7 L1344.3,959.0 L1356.0,1022.9 L1367.7,1037.4 L1379.4,1074.6 L1391.1,1013.5 L1402.9,1106.3 L1414.6,1052.4 L1426.3,1039.0 L1438.0,1086.3 L1449.7,1019.6" fill="none" stroke="#595959" stroke-width="3.0" stroke-linejoin="round" stroke-linecap="round"/>
<circle cx="1215.4" cy="1057.8" r="6.2" fill="#595959"/>
<circle cx="1227.1" cy="918.6" r="6.2" fill="#595959"/>
<circle cx="1238.8" cy="908.8" r="6.2" fill="#595959"/>
<circle cx="1250.5" cy="919.9" r="6.2" fill="#595959"/>
<circle cx="1262.2" cy="912.4" r="6.2" fill="#595959"/>
<circle cx="1274.0" cy="862.8" r="6.2" fill="#595959"/>
<circle cx="1285.7" cy="941.8" r="6.2" fill="#595959"/>
<circle cx="1297.4" cy="921.1" r="6.2" fill="#595959"/>
<circle cx="1309.1" cy="939.1" r="6.2" fill="#595959"/>
<circle cx="1320.8" cy="992.0" r="6.2" fill="#595959"/>
<circle cx="1332.6" cy="1002.7" r="6.2" fill="#595959"/>
<circle cx="1344.3" cy="959.0" r="6.2" fill="#595959"/>
<circle cx="1356.0" cy="1022.9" r="6.2" fill="#595959"/>
<circle cx="1367.7" cy="1037.4" r="6.2" fill="#595959"/>
<circle cx="1379.4" cy="1074.6" r="6.2" fill="#595959"/>
<circle cx="1391.1" cy="1013.5" r="6.2" fill="#595959"/>
<circle cx="1402.9" cy="1106.3" r="6.2" fill="#595959"/>
<circle cx="1414.6" cy="1052.4" r="6.2" fill="#595959"/>
<circle cx="1426.3" cy="1039.0" r="6.2" fill="#595959"/>
<circle cx="1438.0" cy="1086.3" r="6.2" fill="#595959"/>
<circle cx="1449.7" cy="1019.6" r="6.2" fill="#595959"/>
<path d="M1215.4,1044.3 C1217.3,1040.6 1223.2,1028.8 1227.1,1022.3 C1231.0,1015.8 1234.9,1010.4 1238.8,1005.2 C1242.7,999.9 1246.6,995.3 1250.5,991.0 C1254.4,986.6 1258.3,982.6 1262.2,978.8 C1266.1,975.1 1270.1,971.7 1274.0,968.6 C1277.9,965.5 1281.8,962.7 1285.7,960.0 C1289.6,957.3 1293.5,954.7 1297.4,952.3 C1301.3,949.9 1305.2,947.7 1309.1,945.6 C1313.0,943.5 1316.9,941.3 1320.8,939.5 C1324.7,937.8 1328.6,936.1 1332.6,934.9 C1336.5,933.7 1340.4,932.9 1344.3,932.4 C1348.2,931.9 1352.1,931.7 1356.0,932.0 C1359.9,932.3 1363.8,932.5 1367.7,934.3 C1371.6,936.1 1375.5,939.3 1379.4,942.9 C1383.3,946.5 1387.2,950.5 1391.1,955.8 C1395.1,961.1 1399.0,967.0 1402.9,974.7 C1406.8,982.3 1410.7,991.1 1414.6,1001.8 C1418.5,1012.5 1422.4,1024.5 1426.3,1039.0 C1430.2,1053.6 1434.1,1068.9 1438.0,1089.2 C1441.9,1109.5 1447.8,1148.8 1449.7,1160.7 M1449.7,1160.7 C1451.7,1163.0 1457.6,1170.1 1461.5,1174.2 C1465.4,1178.4 1469.3,1182.4 1473.2,1185.8 C1477.1,1189.2 1481.0,1192.1 1484.9,1194.7 C1488.8,1197.3 1492.7,1199.7 1496.6,1201.6 C1500.5,1203.4 1504.4,1204.7 1508.3,1205.8 C1512.2,1207.0 1516.2,1207.9 1520.1,1208.6 C1524.0,1209.4 1527.9,1209.9 1531.8,1210.3 C1535.7,1210.7 1541.5,1210.8 1543.5,1210.8" fill="none" stroke="#595959" stroke-width="3.0" stroke-linejoin="round" stroke-linecap="round"/>
<path d="M1156.8,720.2 C1158.7,716.6 1164.6,705.2 1168.5,698.9 C1172.4,692.5 1176.3,687.3 1180.2,682.1 C1184.1,677.0 1188.0,672.1 1191.9,667.9 C1195.8,663.7 1199.7,660.6 1203.6,657.1 C1207.5,653.5 1211.5,649.9 1215.4,646.6 C1219.3,643.3 1223.2,640.3 1227.1,637.2 C1231.0,634.1 1234.9,630.8 1238.8,627.8 C1242.7,624.8 1246.6,621.9 1250.5,619.0 C1254.4,616.2 1258.3,613.1 1262.2,610.7 C1266.1,608.2 1270.1,606.2 1274.0,604.4 C1277.9,602.5 1281.8,600.8 1285.7,599.6 C1289.6,598.3 1293.5,597.4 1297.4,596.9 C1301.3,596.3 1305.2,596.0 1309.1,596.4 C1313.0,596.9 1316.9,597.8 1320.8,599.6 C1324.7,601.3 1328.6,603.2 1332.6,606.9 C1336.5,610.6 1340.4,615.6 1344.3,621.5 C1348.2,627.4 1352.1,634.2 1356.0,642.4 C1359.9,650.6 1363.8,659.8 1367.7,670.6 C1371.6,681.4 1375.5,693.3 1379.4,707.2 C1383.3,721.2 1389.2,746.4 1391.1,754.3 M1391.1,754.3 C1393.1,756.0 1399.0,761.4 1402.9,764.7 C1406.8,768.0 1410.7,771.0 1414.6,774.1 C1418.5,777.2 1422.4,780.7 1426.3,783.5 C1430.2,786.3 1434.1,788.6 1438.0,790.8 C1441.9,793.0 1445.8,795.1 1449.7,796.7 C1453.7,798.3 1457.6,799.4 1461.5,800.4 C1465.4,801.5 1469.3,802.3 1473.2,803.0 C1477.1,803.6 1483.0,804.2 1484.9,804.4" fill="none" stroke="#BFBFBF" stroke-width="3.0" stroke-linejoin="round" stroke-linecap="round"/>
<path d="M1098.2,504.0 C1100.1,501.0 1106.0,492.3 1109.9,486.2 C1113.8,480.1 1117.7,472.9 1121.6,467.4 C1125.5,461.8 1129.4,457.1 1133.3,452.7 C1137.2,448.4 1141.1,444.9 1145.0,441.2 C1149.0,437.6 1152.9,434.3 1156.8,430.8 C1160.7,427.2 1164.6,423.5 1168.5,419.9 C1172.4,416.4 1176.3,412.7 1180.2,409.5 C1184.1,406.2 1188.0,403.4 1191.9,400.5 C1195.8,397.6 1199.7,394.7 1203.6,392.1 C1207.5,389.5 1211.5,387.0 1215.4,384.8 C1219.3,382.6 1223.2,380.7 1227.1,379.2 C1231.0,377.6 1234.9,376.3 1238.8,375.4 C1242.7,374.5 1246.6,374.0 1250.5,373.9 C1254.4,373.8 1258.3,374.1 1262.2,374.8 C1266.1,375.5 1270.1,376.1 1274.0,378.1 C1277.9,380.1 1281.8,383.0 1285.7,386.9 C1289.6,390.8 1293.5,395.6 1297.4,401.5 C1301.3,407.4 1305.2,415.1 1309.1,422.4 C1313.0,429.7 1316.9,436.5 1320.8,445.4 C1324.7,454.3 1330.6,470.7 1332.6,475.7 M1332.6,475.7 C1334.5,477.1 1340.4,481.3 1344.3,484.1 C1348.2,486.9 1352.1,489.7 1356.0,492.5 C1359.9,495.2 1363.8,498.2 1367.7,500.8 C1371.6,503.4 1375.5,505.9 1379.4,508.1 C1383.3,510.4 1387.2,512.7 1391.1,514.4 C1395.1,516.1 1399.0,517.4 1402.9,518.6 C1406.8,519.7 1410.7,520.6 1414.6,521.3 C1418.5,522.0 1424.4,522.5 1426.3,522.8" fill="none" stroke="#F8CBAD" stroke-width="3.0" stroke-linejoin="round" stroke-linecap="round"/>
<path d="M1039.6,375.4 C1041.5,372.0 1047.4,361.1 1051.3,354.5 C1055.2,348.0 1059.1,341.9 1063.0,336.4 C1066.9,330.9 1070.8,326.1 1074.7,321.5 C1078.6,316.9 1082.5,313.0 1086.4,309.0 C1090.4,304.9 1094.3,301.0 1098.2,297.1 C1102.1,293.2 1106.0,289.3 1109.9,285.6 C1113.8,281.8 1117.7,278.1 1121.6,274.7 C1125.5,271.3 1129.4,268.2 1133.3,265.1 C1137.2,262.0 1141.1,259.1 1145.0,256.1 C1149.0,253.1 1152.9,249.9 1156.8,247.3 C1160.7,244.7 1164.6,242.6 1168.5,240.6 C1172.4,238.6 1176.3,236.9 1180.2,235.4 C1184.1,233.9 1188.0,232.6 1191.9,231.8 C1195.8,231.0 1199.7,230.7 1203.6,230.6 C1207.5,230.5 1211.5,230.5 1215.4,231.2 C1219.3,231.9 1223.2,233.0 1227.1,234.8 C1231.0,236.5 1234.9,238.8 1238.8,241.7 C1242.7,244.6 1246.6,247.8 1250.5,252.1 C1254.4,256.5 1258.3,261.5 1262.2,267.8 C1266.1,274.1 1272.0,286.1 1274.0,289.7 M1274.0,289.7 C1275.9,290.8 1281.8,293.7 1285.7,296.0 C1289.6,298.3 1293.5,300.9 1297.4,303.3 C1301.3,305.8 1305.2,308.2 1309.1,310.6 C1313.0,313.1 1316.9,315.7 1320.8,318.0 C1324.7,320.2 1328.6,322.3 1332.6,324.2 C1336.5,326.1 1340.4,328.0 1344.3,329.5 C1348.2,331.0 1352.1,332.2 1356.0,333.2 C1359.9,334.3 1365.8,335.3 1367.7,335.7" fill="none" stroke="#4472C4" stroke-width="3.0" stroke-linejoin="round" stroke-linecap="round"/>
<path d="M981.0,299.3 C982.9,295.7 988.8,284.0 992.7,277.4 C996.6,270.8 1000.5,265.2 1004.4,259.6 C1008.3,254.0 1012.2,248.8 1016.1,243.9 C1020.0,239.1 1023.9,234.7 1027.9,230.4 C1031.8,226.0 1035.7,221.8 1039.6,217.8 C1043.5,213.8 1047.4,210.0 1051.3,206.3 C1055.2,202.7 1059.1,199.2 1063.0,195.9 C1066.9,192.6 1070.8,189.5 1074.7,186.5 C1078.6,183.4 1082.5,180.4 1086.4,177.5 C1090.4,174.5 1094.3,171.6 1098.2,168.7 C1102.1,165.8 1106.0,162.6 1109.9,159.9 C1113.8,157.2 1117.7,154.7 1121.6,152.6 C1125.5,150.5 1129.4,148.7 1133.3,147.4 C1137.2,146.1 1141.1,145.3 1145.0,144.7 C1149.0,144.0 1152.9,143.7 1156.8,143.6 C1160.7,143.5 1164.6,143.6 1168.5,144.0 C1172.4,144.4 1176.3,145.0 1180.2,146.1 C1184.1,147.3 1188.0,148.6 1191.9,150.9 C1195.8,153.2 1199.7,156.4 1203.6,159.9 C1207.5,163.4 1213.4,169.8 1215.4,171.8 M1215.4,171.8 C1217.3,172.6 1223.2,175.0 1227.1,176.6 C1231.0,178.3 1234.9,179.8 1238.8,181.7 C1242.7,183.5 1246.6,185.5 1250.5,187.5 C1254.4,189.5 1258.3,191.7 1262.2,193.8 C1266.1,195.9 1270.1,198.0 1274.0,200.0 C1277.9,202.1 1281.8,204.2 1285.7,205.9 C1289.6,207.6 1293.5,208.8 1297.4,210.1 C1301.3,211.4 1307.2,213.0 1309.1,213.6" fill="none" stroke="#ED7D31" stroke-width="3.1" stroke-linejoin="round" stroke-linecap="round"/>
<path d="M922.4,264.4 C924.3,260.2 930.2,246.6 934.1,239.3 C938.0,231.9 941.9,225.5 945.8,220.2 C949.7,214.8 953.6,211.4 957.5,207.2 C961.4,203.0 965.3,199.1 969.3,195.0 C973.2,190.9 977.1,186.7 981.0,182.8 C984.9,178.8 988.8,174.9 992.7,171.3 C996.6,167.8 1000.5,164.6 1004.4,161.4 C1008.3,158.2 1012.2,155.3 1016.1,152.3 C1020.0,149.2 1023.9,146.3 1027.9,143.1 C1031.8,139.9 1035.7,136.5 1039.6,133.2 C1043.5,129.9 1047.4,126.3 1051.3,123.3 C1055.2,120.2 1059.1,117.5 1063.0,114.9 C1066.9,112.2 1070.8,109.4 1074.7,107.2 C1078.6,105.1 1082.5,103.3 1086.4,101.9 C1090.4,100.5 1094.3,99.6 1098.2,98.9 C1102.1,98.2 1106.0,98.0 1109.9,97.6 C1113.8,97.2 1117.7,96.7 1121.6,96.7 C1125.5,96.6 1129.4,96.9 1133.3,97.2 C1137.2,97.6 1141.1,97.9 1145.0,98.9 C1149.0,100.0 1154.8,102.7 1156.8,103.4 M1156.8,103.4 C1158.7,103.8 1164.6,104.6 1168.5,105.5 C1172.4,106.3 1176.3,107.3 1180.2,108.5 C1184.1,109.7 1188.0,111.2 1191.9,112.7 C1195.8,114.2 1199.7,115.8 1203.6,117.6 C1207.5,119.3 1211.5,121.3 1215.4,123.2 C1219.3,125.1 1223.2,127.0 1227.1,128.9 C1231.0,130.7 1234.9,132.6 1238.8,134.5 C1242.7,136.4 1248.6,139.2 1250.5,140.2" fill="none" stroke="#00B050" stroke-width="3.8" stroke-linejoin="round" stroke-linecap="round"/>
<path d="M863.8,258.4 C865.7,255.2 871.6,245.2 875.5,239.3 C879.4,233.4 883.3,228.1 887.2,223.1 C891.1,218.1 895.0,213.9 898.9,209.5 C902.8,205.1 906.8,201.0 910.7,196.8 C914.6,192.7 918.5,188.4 922.4,184.4 C926.3,180.3 930.2,176.3 934.1,172.4 C938.0,168.4 941.9,164.6 945.8,160.7 C949.7,156.8 953.6,153.0 957.5,149.1 C961.4,145.3 965.3,141.4 969.3,137.5 C973.2,133.5 977.1,129.4 981.0,125.5 C984.9,121.6 988.8,117.5 992.7,114.0 C996.6,110.5 1000.5,107.3 1004.4,104.5 C1008.3,101.8 1012.2,99.6 1016.1,97.5 C1020.0,95.5 1023.9,93.6 1027.9,92.0 C1031.8,90.5 1035.7,89.2 1039.6,88.1 C1043.5,86.9 1047.4,86.1 1051.3,85.1 C1055.2,84.1 1059.1,83.0 1063.0,82.1 C1066.9,81.2 1070.8,80.4 1074.7,79.6 C1078.6,78.8 1082.5,78.0 1086.4,77.4 C1090.4,76.8 1096.2,76.1 1098.2,75.9 M1098.2,75.9 C1100.1,75.9 1106.0,75.8 1109.9,75.9 C1113.8,76.0 1117.7,76.2 1121.6,76.6 C1125.5,76.9 1129.4,77.1 1133.3,77.9 C1137.2,78.6 1141.1,79.9 1145.0,81.2 C1149.0,82.5 1152.9,84.1 1156.8,85.8 C1160.7,87.4 1164.6,89.3 1168.5,91.1 C1172.4,93.0 1176.3,95.1 1180.2,97.0 C1184.1,99.0 1190.0,102.0 1191.9,103.0" fill="none" stroke="#9C6500" stroke-width="3.4" stroke-linejoin="round" stroke-linecap="round"/>
<path d="M805.2,273.7 C807.1,270.9 813.0,262.2 816.9,256.7 C820.8,251.2 824.7,245.9 828.6,240.8 C832.5,235.6 836.4,230.5 840.3,225.8 C844.2,221.0 848.2,216.8 852.1,212.3 C856.0,207.8 859.9,203.2 863.8,198.8 C867.7,194.4 871.6,190.2 875.5,185.9 C879.4,181.5 883.3,177.1 887.2,172.9 C891.1,168.6 895.0,164.3 898.9,160.4 C902.8,156.5 906.8,153.0 910.7,149.4 C914.6,145.9 918.5,142.4 922.4,139.0 C926.3,135.5 930.2,132.2 934.1,129.0 C938.0,125.8 941.9,122.7 945.8,119.8 C949.7,116.9 953.6,114.1 957.5,111.5 C961.4,108.9 965.3,106.4 969.3,104.0 C973.2,101.7 977.1,99.5 981.0,97.5 C984.9,95.5 988.8,93.7 992.7,92.0 C996.6,90.4 1000.5,89.0 1004.4,87.6 C1008.3,86.1 1012.2,84.8 1016.1,83.6 C1020.0,82.3 1023.9,81.2 1027.9,80.1 C1031.8,78.9 1037.6,77.2 1039.6,76.6 M1039.6,76.6 C1041.5,76.3 1047.4,75.2 1051.3,74.8 C1055.2,74.4 1059.1,74.3 1063.0,74.3 C1066.9,74.2 1070.8,74.4 1074.7,74.6 C1078.6,74.7 1082.5,74.8 1086.4,75.2 C1090.4,75.6 1094.3,76.2 1098.2,76.9 C1102.1,77.7 1106.0,78.7 1109.9,79.8 C1113.8,81.0 1117.7,82.3 1121.6,83.8 C1125.5,85.4 1131.4,88.2 1133.3,89.1" fill="none" stroke="#FF0000" stroke-width="3.4" stroke-linejoin="round" stroke-linecap="round"/>
<path d="M746.6,301.6 C748.5,298.8 754.4,290.2 758.3,284.7 C762.2,279.1 766.1,273.6 770.0,268.2 C773.9,262.8 777.8,257.3 781.7,252.2 C785.7,247.2 789.6,242.4 793.5,237.8 C797.4,233.1 801.3,228.7 805.2,224.3 C809.1,219.9 813.0,215.5 816.9,211.3 C820.8,207.2 824.7,203.2 828.6,199.3 C832.5,195.5 836.4,192.0 840.3,188.4 C844.2,184.7 848.2,181.0 852.1,177.4 C856.0,173.8 859.9,170.4 863.8,166.9 C867.7,163.4 871.6,159.8 875.5,156.4 C879.4,153.0 883.3,149.6 887.2,146.4 C891.1,143.2 895.0,140.1 898.9,137.3 C902.8,134.4 906.8,131.9 910.7,129.5 C914.6,127.1 918.5,124.9 922.4,122.8 C926.3,120.6 930.2,118.6 934.1,116.5 C938.0,114.4 941.9,112.4 945.8,110.3 C949.7,108.2 953.6,106.2 957.5,104.1 C961.4,102.1 965.3,100.0 969.3,97.9 C973.2,95.9 979.0,92.7 981.0,91.6 M981.0,91.6 C982.9,91.3 988.8,90.1 992.7,89.5 C996.6,88.8 1000.5,88.1 1004.4,87.6 C1008.3,87.0 1012.2,86.5 1016.1,86.1 C1020.0,85.6 1023.9,85.3 1027.9,85.1 C1031.8,84.8 1035.7,84.7 1039.6,84.8 C1043.5,84.8 1047.4,84.9 1051.3,85.3 C1055.2,85.7 1059.1,86.3 1063.0,87.2 C1066.9,88.0 1072.8,89.9 1074.7,90.4" fill="none" stroke="#FFC000" stroke-width="3.15" stroke-linejoin="round" stroke-linecap="round"/>
<path d="M688.0,337.1 C689.9,335.1 695.8,329.1 699.7,325.1 C703.6,321.1 707.5,317.4 711.4,313.2 C715.3,309.0 719.2,304.4 723.2,299.9 C727.1,295.5 731.0,291.2 734.9,286.7 C738.8,282.1 742.7,277.3 746.6,272.8 C750.5,268.3 754.4,263.8 758.3,259.5 C762.2,255.2 766.1,251.3 770.0,246.9 C773.9,242.6 777.8,237.9 781.7,233.6 C785.7,229.3 789.6,225.2 793.5,221.1 C797.4,217.0 801.3,213.0 805.2,209.1 C809.1,205.2 813.0,201.5 816.9,197.8 C820.8,194.2 824.7,190.7 828.6,187.3 C832.5,183.9 836.4,180.6 840.3,177.4 C844.2,174.2 848.2,171.1 852.1,168.2 C856.0,165.3 859.9,162.5 863.8,159.7 C867.7,157.0 871.6,154.4 875.5,151.7 C879.4,149.1 883.3,146.5 887.2,143.9 C891.1,141.4 895.0,138.9 898.9,136.4 C902.8,133.8 906.8,131.3 910.7,128.8 C914.6,126.3 920.4,122.6 922.4,121.4 M922.4,121.4 C924.3,121.0 930.2,119.9 934.1,118.9 C938.0,117.9 941.9,116.6 945.8,115.6 C949.7,114.6 953.6,114.0 957.5,113.0 C961.4,112.0 965.3,110.6 969.3,109.6 C973.2,108.6 977.1,107.8 981.0,107.0 C984.9,106.3 988.8,105.5 992.7,105.0 C996.6,104.6 1000.5,104.4 1004.4,104.3 C1008.3,104.2 1014.2,104.3 1016.1,104.3" fill="none" stroke="#7030A0" stroke-width="3.15" stroke-linejoin="round" stroke-linecap="round"/>
<path d="M629.4,379.4 C631.3,377.5 637.2,371.9 641.1,368.1 C645.0,364.4 648.9,360.7 652.8,356.9 C656.7,353.1 660.6,349.1 664.6,345.3 C668.5,341.4 672.4,337.6 676.3,333.7 C680.2,329.8 684.1,325.8 688.0,321.8 C691.9,317.8 695.8,313.9 699.7,309.9 C703.6,306.0 707.5,302.0 711.4,298.0 C715.3,294.1 719.2,290.1 723.2,286.1 C727.1,282.0 731.0,277.8 734.9,273.7 C738.8,269.6 742.7,265.5 746.6,261.5 C750.5,257.5 754.4,253.6 758.3,249.7 C762.2,245.9 766.1,242.2 770.0,238.6 C773.9,235.0 777.8,231.5 781.7,228.1 C785.7,224.7 789.6,221.5 793.5,218.3 C797.4,215.1 801.3,212.1 805.2,209.0 C809.1,205.9 813.0,202.9 816.9,199.8 C820.8,196.8 824.7,193.7 828.6,190.7 C832.5,187.6 836.4,184.6 840.3,181.5 C844.2,178.4 848.2,175.3 852.1,172.2 C856.0,169.0 861.8,164.2 863.8,162.6 M863.8,162.6 C865.7,162.2 871.6,161.0 875.5,160.0 C879.4,159.0 883.3,157.9 887.2,156.7 C891.1,155.5 895.0,154.2 898.9,152.7 C902.8,151.3 906.8,149.7 910.7,148.0 C914.6,146.4 918.5,144.5 922.4,142.7 C926.3,141.0 930.2,139.1 934.1,137.5 C938.0,135.8 941.9,134.2 945.8,132.9 C949.7,131.5 955.6,130.0 957.5,129.5" fill="none" stroke="#CB3F12" stroke-width="3.15" stroke-linejoin="round" stroke-linecap="round"/>
<path d="M570.8,429.9 C572.8,428.4 578.6,423.8 582.5,420.9 C586.4,418.0 590.3,415.4 594.2,412.6 C598.1,409.8 602.1,407.4 606.0,404.0 C609.9,400.7 613.8,396.3 617.7,392.5 C621.6,388.7 625.5,385.1 629.4,381.3 C633.3,377.5 637.2,373.4 641.1,369.6 C645.0,365.8 648.9,362.2 652.8,358.3 C656.7,354.5 660.6,350.3 664.6,346.6 C668.5,342.8 672.4,339.3 676.3,335.6 C680.2,331.8 684.1,328.1 688.0,324.1 C691.9,320.1 695.8,315.9 699.7,311.6 C703.6,307.4 707.5,302.6 711.4,298.6 C715.3,294.7 719.2,291.7 723.2,288.2 C727.1,284.7 731.0,281.2 734.9,277.7 C738.8,274.2 742.7,270.7 746.6,267.2 C750.5,263.7 754.4,260.2 758.3,256.7 C762.2,253.2 766.1,249.7 770.0,246.2 C773.9,242.8 777.8,239.2 781.7,235.8 C785.7,232.4 789.6,229.1 793.5,225.8 C797.4,222.5 803.2,217.5 805.2,215.8 M805.2,215.8 C807.1,215.1 813.0,212.9 816.9,211.6 C820.8,210.4 824.7,209.6 828.6,208.3 C832.5,207.0 836.4,205.5 840.3,203.7 C844.2,202.0 848.2,200.0 852.1,197.7 C856.0,195.5 859.9,193.0 863.8,190.5 C867.7,187.9 871.6,185.1 875.5,182.5 C879.4,179.8 883.3,177.2 887.2,174.6 C891.1,171.9 897.0,167.9 898.9,166.6" fill="none" stroke="#A9D18E" stroke-width="3.15" stroke-linejoin="round" stroke-linecap="round"/>
<path d="M1461.5,1127.2 C1463.4,1129.0 1469.3,1134.4 1473.2,1137.5 C1477.1,1140.6 1481.0,1143.4 1484.9,1145.8 C1488.8,1148.3 1492.7,1150.5 1496.6,1152.3 C1500.5,1154.2 1504.4,1155.6 1508.3,1157.0 C1512.2,1158.4 1516.2,1159.6 1520.1,1160.7 C1524.0,1161.8 1527.9,1162.8 1531.8,1163.5 C1535.7,1164.2 1541.5,1164.7 1543.5,1165.0" fill="none" stroke="#595959" stroke-width="3.0" stroke-dasharray="9.3 12.4" stroke-linecap="round"/>
<path d="M1461.5,1221.1 C1463.4,1223.4 1469.3,1231.1 1473.2,1235.0 C1477.1,1238.9 1481.0,1241.8 1484.9,1244.3 C1488.8,1246.8 1492.7,1248.5 1496.6,1249.9 C1500.5,1251.3 1504.4,1252.0 1508.3,1252.6 C1512.2,1253.3 1516.2,1253.6 1520.1,1253.9 C1524.0,1254.3 1527.9,1254.5 1531.8,1254.7 C1535.7,1254.8 1541.5,1254.8 1543.5,1254.9" fill="none" stroke="#595959" stroke-width="3.0" stroke-dasharray="9.3 12.4" stroke-linecap="round"/>
<path d="M1402.9,737.5 C1404.8,739.1 1410.7,743.8 1414.6,746.9 C1418.5,750.1 1422.4,753.6 1426.3,756.3 C1430.2,759.1 1434.1,761.6 1438.0,763.7 C1441.9,765.8 1445.8,767.4 1449.7,768.9 C1453.7,770.4 1457.6,771.5 1461.5,772.4 C1465.4,773.4 1469.3,774.2 1473.2,774.7 C1477.1,775.3 1483.0,775.6 1484.9,775.8" fill="none" stroke="#BFBFBF" stroke-width="3.0" stroke-dasharray="9.3 12.4" stroke-linecap="round"/>
<path d="M1402.9,792.9 C1404.8,795.4 1410.7,803.4 1414.6,807.6 C1418.5,811.7 1422.4,815.2 1426.3,818.0 C1430.2,820.8 1434.1,822.7 1438.0,824.3 C1441.9,825.9 1445.8,826.7 1449.7,827.4 C1453.7,828.2 1457.6,828.5 1461.5,828.9 C1465.4,829.2 1469.3,829.4 1473.2,829.5 C1477.1,829.6 1483.0,829.7 1484.9,829.7" fill="none" stroke="#BFBFBF" stroke-width="3.0" stroke-dasharray="9.3 12.4" stroke-linecap="round"/>
<path d="M1344.3,466.3 C1346.2,468.0 1352.1,473.2 1356.0,476.4 C1359.9,479.5 1363.8,482.5 1367.7,485.1 C1371.6,487.8 1375.5,490.4 1379.4,492.5 C1383.3,494.5 1387.2,495.9 1391.1,497.3 C1395.1,498.6 1399.0,499.5 1402.9,500.4 C1406.8,501.3 1410.7,501.9 1414.6,502.5 C1418.5,503.1 1424.4,503.7 1426.3,504.0" fill="none" stroke="#F8CBAD" stroke-width="3.0" stroke-dasharray="9.3 12.4" stroke-linecap="round"/>
<path d="M1344.3,498.7 C1346.2,500.8 1352.1,507.4 1356.0,511.3 C1359.9,515.1 1363.8,518.8 1367.7,521.7 C1371.6,524.7 1375.5,527.0 1379.4,529.0 C1383.3,531.0 1387.2,532.4 1391.1,533.6 C1395.1,534.8 1399.0,535.6 1402.9,536.3 C1406.8,537.1 1410.7,537.6 1414.6,538.0 C1418.5,538.5 1424.4,538.9 1426.3,539.1" fill="none" stroke="#F8CBAD" stroke-width="3.0" stroke-dasharray="9.3 12.4" stroke-linecap="round"/>
<path d="M1285.7,286.6 C1287.6,287.5 1293.5,290.0 1297.4,291.8 C1301.3,293.7 1305.2,295.7 1309.1,297.7 C1313.0,299.7 1316.9,301.8 1320.8,303.7 C1324.7,305.7 1328.6,307.5 1332.6,309.2 C1336.5,310.8 1340.4,312.5 1344.3,313.8 C1348.2,315.1 1352.1,316.2 1356.0,317.1 C1359.9,318.1 1365.8,319.0 1367.7,319.4" fill="none" stroke="#0070C0" stroke-width="3.0" stroke-dasharray="9.3 12.4" stroke-linecap="round"/>
<path d="M1285.7,305.4 C1287.6,307.0 1293.5,311.7 1297.4,314.8 C1301.3,318.0 1305.2,321.3 1309.1,324.2 C1313.0,327.2 1316.9,330.2 1320.8,332.6 C1324.7,335.0 1328.6,337.1 1332.6,338.9 C1336.5,340.6 1340.4,341.9 1344.3,343.0 C1348.2,344.2 1352.1,344.9 1356.0,345.5 C1359.9,346.2 1365.8,346.6 1367.7,346.8" fill="none" stroke="#0070C0" stroke-width="3.0" stroke-dasharray="9.3 12.4" stroke-linecap="round"/>
<path d="M1227.1,168.3 C1229.0,169.0 1234.9,171.1 1238.8,172.5 C1242.7,173.9 1246.6,175.2 1250.5,176.6 C1254.4,178.1 1258.3,179.7 1262.2,181.2 C1266.1,182.8 1270.1,184.4 1274.0,185.8 C1277.9,187.3 1281.8,188.7 1285.7,190.0 C1289.6,191.3 1293.5,192.7 1297.4,193.8 C1301.3,194.9 1307.2,196.0 1309.1,196.5" fill="none" stroke="#ED7D31" stroke-width="3.0" stroke-dasharray="9.3 12.4" stroke-linecap="round"/>
<path d="M1227.1,181.2 C1229.0,182.5 1234.9,186.1 1238.8,188.6 C1242.7,191.0 1246.6,193.4 1250.5,195.9 C1254.4,198.3 1258.3,200.9 1262.2,203.2 C1266.1,205.4 1270.1,207.4 1274.0,209.5 C1277.9,211.6 1281.8,213.9 1285.7,215.7 C1289.6,217.6 1293.5,219.1 1297.4,220.5 C1301.3,221.9 1307.2,223.5 1309.1,224.1" fill="none" stroke="#ED7D31" stroke-width="3.0" stroke-dasharray="9.3 12.4" stroke-linecap="round"/>
<path d="M1168.5,100.3 C1170.4,100.6 1176.3,101.7 1180.2,102.3 C1184.1,102.9 1188.0,103.4 1191.9,104.0 C1195.8,104.7 1199.7,105.4 1203.6,106.3 C1207.5,107.1 1211.5,108.2 1215.4,109.1 C1219.3,110.0 1223.2,110.9 1227.1,111.9 C1231.0,112.9 1234.9,114.0 1238.8,115.0 C1242.7,115.9 1248.6,117.1 1250.5,117.6" fill="none" stroke="#00B050" stroke-width="3.0" stroke-dasharray="9.3 12.4" stroke-linecap="round"/>
<path d="M1168.5,113.1 C1170.4,113.8 1176.3,116.1 1180.2,117.6 C1184.1,119.1 1188.0,120.3 1191.9,122.1 C1195.8,123.9 1199.7,126.0 1203.6,128.3 C1207.5,130.6 1211.5,133.2 1215.4,135.7 C1219.3,138.1 1223.2,140.8 1227.1,143.0 C1231.0,145.2 1234.9,147.0 1238.8,148.6 C1242.7,150.3 1248.6,152.4 1250.5,153.2" fill="none" stroke="#00B050" stroke-width="3.0" stroke-dasharray="9.3 12.4" stroke-linecap="round"/>
<path d="M1109.9,71.1 C1111.8,71.0 1117.7,70.7 1121.6,70.6 C1125.5,70.5 1129.4,70.5 1133.3,70.6 C1137.2,70.7 1141.1,70.8 1145.0,71.1 C1149.0,71.3 1152.9,71.7 1156.8,72.1 C1160.7,72.5 1164.6,73.0 1168.5,73.6 C1172.4,74.2 1176.3,74.9 1180.2,75.6 C1184.1,76.2 1190.0,77.2 1191.9,77.6" fill="none" stroke="#996633" stroke-width="3.0" stroke-dasharray="9.3 12.4" stroke-linecap="round"/>
<path d="M1109.9,83.6 C1111.8,84.2 1117.7,86.2 1121.6,87.6 C1125.5,88.9 1129.4,90.1 1133.3,91.5 C1137.2,93.0 1141.1,94.8 1145.0,96.5 C1149.0,98.3 1152.9,100.0 1156.8,102.0 C1160.7,104.0 1164.6,106.4 1168.5,108.5 C1172.4,110.7 1176.3,113.1 1180.2,115.0 C1184.1,116.9 1190.0,119.2 1191.9,120.0" fill="none" stroke="#996633" stroke-width="3.0" stroke-dasharray="9.3 12.4" stroke-linecap="round"/>
<path d="M1051.3,67.9 C1053.2,67.6 1059.1,66.6 1063.0,65.9 C1066.9,65.3 1070.8,64.6 1074.7,64.0 C1078.6,63.3 1082.5,62.6 1086.4,62.0 C1090.4,61.3 1094.3,60.5 1098.2,60.0 C1102.1,59.4 1106.0,59.0 1109.9,58.7 C1113.8,58.3 1117.7,57.9 1121.6,57.6 C1125.5,57.3 1131.4,57.2 1133.3,57.1" fill="none" stroke="#FF0000" stroke-width="3.0" stroke-dasharray="9.3 12.4" stroke-linecap="round"/>
<path d="M1051.3,81.8 C1053.2,82.2 1059.1,83.1 1063.0,83.8 C1066.9,84.6 1070.8,85.5 1074.7,86.5 C1078.6,87.5 1082.5,88.6 1086.4,89.8 C1090.4,91.0 1094.3,92.2 1098.2,93.8 C1102.1,95.3 1106.0,97.2 1109.9,99.1 C1113.8,100.9 1117.7,102.9 1121.6,105.0 C1125.5,107.1 1131.4,110.5 1133.3,111.6" fill="none" stroke="#FF0000" stroke-width="3.0" stroke-dasharray="9.3 12.4" stroke-linecap="round"/>
<path d="M992.7,83.8 C994.6,83.0 1000.5,80.8 1004.4,79.2 C1008.3,77.5 1012.2,75.5 1016.1,73.9 C1020.0,72.2 1023.9,70.9 1027.9,69.3 C1031.8,67.6 1035.7,65.6 1039.6,64.0 C1043.5,62.3 1047.4,60.9 1051.3,59.3 C1055.2,57.8 1059.1,56.1 1063.0,54.7 C1066.9,53.2 1072.8,51.4 1074.7,50.7" fill="none" stroke="#FFC000" stroke-width="3.0" stroke-dasharray="9.3 12.4" stroke-linecap="round"/>
<path d="M992.7,97.1 C994.6,97.1 1000.5,97.2 1004.4,97.5 C1008.3,97.7 1012.2,97.9 1016.1,98.4 C1020.0,98.9 1023.9,99.5 1027.9,100.4 C1031.8,101.3 1035.7,102.4 1039.6,103.7 C1043.5,105.0 1047.4,106.7 1051.3,108.3 C1055.2,110.0 1059.1,111.7 1063.0,113.6 C1066.9,115.5 1072.8,118.6 1074.7,119.6" fill="none" stroke="#FFC000" stroke-width="3.0" stroke-dasharray="9.3 12.4" stroke-linecap="round"/>
<path d="M934.1,113.0 C936.1,111.8 941.9,108.1 945.8,105.7 C949.7,103.3 953.6,100.9 957.5,98.4 C961.4,95.9 965.3,93.1 969.3,90.4 C973.2,87.8 977.1,85.1 981.0,82.5 C984.9,79.8 988.8,77.2 992.7,74.6 C996.6,71.9 1000.5,69.3 1004.4,66.6 C1008.3,64.0 1014.2,60.0 1016.1,58.7" fill="none" stroke="#7030A0" stroke-width="3.0" stroke-dasharray="9.3 12.4" stroke-linecap="round"/>
<path d="M934.1,126.9 C936.1,126.8 941.9,126.4 945.8,126.2 C949.7,126.1 953.6,125.9 957.5,125.9 C961.4,126.0 965.3,126.1 969.3,126.5 C973.2,126.8 977.1,127.5 981.0,128.2 C984.9,128.9 988.8,129.7 992.7,130.8 C996.6,131.9 1000.5,133.4 1004.4,134.8 C1008.3,136.2 1014.2,138.7 1016.1,139.5" fill="none" stroke="#7030A0" stroke-width="3.0" stroke-dasharray="9.3 12.4" stroke-linecap="round"/>
<path d="M875.5,150.7 C877.5,150.0 883.3,148.0 887.2,146.0 C891.1,144.0 895.0,141.5 898.9,138.8 C902.8,136.0 906.8,132.9 910.7,129.5 C914.6,126.1 918.5,122.2 922.4,118.3 C926.3,114.4 930.2,111.0 934.1,106.3 C938.0,101.7 941.9,95.7 945.8,90.4 C949.7,85.2 955.6,77.2 957.5,74.6" fill="none" stroke="#C00000" stroke-width="3.0" stroke-dasharray="9.3 12.4" stroke-linecap="round"/>
<path d="M875.5,168.6 C877.5,168.3 883.3,167.2 887.2,166.6 C891.1,166.0 895.0,165.4 898.9,165.0 C902.8,164.6 906.8,164.4 910.7,164.2 C914.6,164.1 918.5,164.1 922.4,164.2 C926.3,164.4 930.2,164.6 934.1,165.0 C938.0,165.5 941.9,166.2 945.8,167.0 C949.7,167.8 955.6,169.4 957.5,169.9" fill="none" stroke="#C00000" stroke-width="3.0" stroke-dasharray="9.3 12.4" stroke-linecap="round"/>
<path d="M816.9,200.4 C818.9,199.2 824.7,195.8 828.6,193.1 C832.5,190.5 836.4,187.7 840.3,184.5 C844.2,181.3 848.2,177.9 852.1,173.9 C856.0,169.9 859.9,165.5 863.8,160.6 C867.7,155.8 871.6,150.7 875.5,144.8 C879.4,138.8 883.3,132.2 887.2,124.9 C891.1,117.6 897.0,105.0 898.9,101.0" fill="none" stroke="#92D050" stroke-width="3.0" stroke-dasharray="9.3 12.4" stroke-linecap="round"/>
<path d="M816.9,224.9 C818.9,224.4 824.7,223.1 828.6,222.2 C832.5,221.4 836.4,220.4 840.3,219.6 C844.2,218.8 848.2,218.2 852.1,217.6 C856.0,217.0 859.9,216.4 863.8,216.0 C867.7,215.6 871.6,215.4 875.5,215.2 C879.4,215.1 883.3,215.1 887.2,215.2 C891.1,215.4 897.0,215.9 898.9,216.0" fill="none" stroke="#92D050" stroke-width="3.0" stroke-dasharray="9.3 12.4" stroke-linecap="round"/>
</g>
<g id="axis-labels">
<rect x="60" y="466" width="49.5" height="34.7" fill="#fff"/>
<rect x="60" y="672" width="49.1" height="36" fill="#fff"/>
<text transform="translate(55.59,18.69) scale(1.007,1)" font-size="25.0">200</text>
<text transform="translate(57.48,174.19) scale(0.964,1)" font-size="25.0">100</text>
<text transform="translate(66.54,329.79) scale(0.950,1)" font-size="25.0">50</text>
<text transform="translate(67.57,487.65) scale(0.950,1)" font-size="25.0">25</text>
<text transform="translate(67.97,694.79) scale(0.970,1)" font-size="25.0">10</text>
<text transform="translate(78.74,848.76) scale(0.950,1)" font-size="25.0">5</text>
<text transform="translate(76.40,1054.58) scale(1.030,1)" font-size="25.0">2</text>
<text transform="translate(77.95,1214.55) scale(0.950,1)" font-size="25.0">1</text>
<text transform="translate(60.28,1367.94) scale(0.968,1)" font-size="25.0">0.5</text>
<text transform="translate(512.80,18.19) scale(0.996,1)" font-size="25.0">200</text>
<text transform="translate(513.63,174.19) scale(0.987,1)" font-size="25.0">100</text>
<text transform="translate(524.96,331.79) scale(0.991,1)" font-size="25.0">50</text>
<text transform="translate(523.80,487.85) scale(1.003,1)" font-size="25.0">25</text>
<text transform="translate(524.35,694.59) scale(0.979,1)" font-size="25.0">10</text>
<text transform="translate(536.99,849.96) scale(0.950,1)" font-size="25.0">5</text>
<text transform="translate(533.50,1054.78) scale(1.030,1)" font-size="25.0">2</text>
<text transform="translate(534.83,1215.25) scale(0.950,1)" font-size="25.0">1</text>
<text transform="translate(518.79,1367.84) scale(0.960,1)" font-size="25.0">0.5</text>
<text transform="translate(120.4,1376.3) rotate(-90)" font-size="24.7" text-anchor="end">1997</text>
<text transform="translate(171.4,1376.3) rotate(-90)" font-size="24.7" text-anchor="end">2001</text>
<text transform="translate(222.5,1376.3) rotate(-90)" font-size="24.7" text-anchor="end">2005</text>
<text transform="translate(273.5,1376.3) rotate(-90)" font-size="24.7" text-anchor="end">2009</text>
<text transform="translate(324.5,1376.3) rotate(-90)" font-size="24.7" text-anchor="end">2013</text>
<text transform="translate(375.5,1376.3) rotate(-90)" font-size="24.7" text-anchor="end">2017</text>
<text transform="translate(426.6,1376.3) rotate(-90)" font-size="24.7" text-anchor="end">2021</text>
<text transform="translate(477.6,1376.3) rotate(-90)" font-size="24.7" text-anchor="end">2025</text>
<text transform="translate(578.7,1376.3) rotate(-90)" font-size="24.7" text-anchor="end">1917</text>
<text transform="translate(625.6,1376.3) rotate(-90)" font-size="24.7" text-anchor="end">1921</text>
<text transform="translate(672.5,1376.3) rotate(-90)" font-size="24.7" text-anchor="end">1925</text>
<text transform="translate(719.3,1376.3) rotate(-90)" font-size="24.7" text-anchor="end">1929</text>
<text transform="translate(766.2,1376.3) rotate(-90)" font-size="24.7" text-anchor="end">1933</text>
<text transform="translate(813.1,1376.3) rotate(-90)" font-size="24.7" text-anchor="end">1937</text>
<text transform="translate(860.0,1376.3) rotate(-90)" font-size="24.7" text-anchor="end">1941</text>
<text transform="translate(906.8,1376.3) rotate(-90)" font-size="24.7" text-anchor="end">1945</text>
<text transform="translate(953.7,1376.3) rotate(-90)" font-size="24.7" text-anchor="end">1949</text>
<text transform="translate(1000.6,1376.3) rotate(-90)" font-size="24.7" text-anchor="end">1953</text>
<text transform="translate(1047.5,1376.3) rotate(-90)" font-size="24.7" text-anchor="end">1957</text>
<text transform="translate(1094.3,1376.3) rotate(-90)" font-size="24.7" text-anchor="end">1961</text>
<text transform="translate(1141.2,1376.3) rotate(-90)" font-size="24.7" text-anchor="end">1965</text>
<text transform="translate(1188.1,1376.3) rotate(-90)" font-size="24.7" text-anchor="end">1969</text>
<text transform="translate(1235.0,1376.3) rotate(-90)" font-size="24.7" text-anchor="end">1973</text>
<text transform="translate(1281.9,1376.3) rotate(-90)" font-size="24.7" text-anchor="end">1977</text>
<text transform="translate(1328.7,1376.3) rotate(-90)" font-size="24.7" text-anchor="end">1981</text>
<text transform="translate(1375.6,1376.3) rotate(-90)" font-size="24.7" text-anchor="end">1985</text>
<text transform="translate(1422.5,1376.3) rotate(-90)" font-size="24.7" text-anchor="end">1989</text>
<text transform="translate(1469.4,1376.3) rotate(-90)" font-size="24.7" text-anchor="end">1993</text>
<text transform="translate(1516.2,1376.3) rotate(-90)" font-size="24.7" text-anchor="end">1997</text>
<text x="278.5" y="1500.2" font-size="29" text-anchor="middle" textLength="166.5" lengthAdjust="spacingAndGlyphs">Calendar Year</text>
<text x="1039.2" y="1504.4" font-size="29" text-anchor="middle" textLength="146" lengthAdjust="spacingAndGlyphs">Birth Cohort</text>
<text transform="translate(23.0,686.8) rotate(-90)" font-size="29" text-anchor="middle" textLength="764" lengthAdjust="spacingAndGlyphs">Age-specific Oral Cancer Incidence Rate per 100,000 Population</text>
</g>
<g id="legend">
<line x1="1595.8" y1="43.3" x2="1661.6" y2="43.3" stroke="#A9D18E" stroke-width="5.8" stroke-linecap="round"/>
<circle cx="1629.7" cy="43.3" r="9.1" fill="#A9D18E"/>
<text x="1671.4" y="56.5" font-size="41.2">80-84</text>
<line x1="1595.8" y1="108.9" x2="1661.6" y2="108.9" stroke="#C00000" stroke-width="5.8" stroke-linecap="round"/>
<circle cx="1629.7" cy="108.9" r="9.1" fill="#D03A07"/>
<text x="1671.4" y="122.1" font-size="41.2">75-79</text>
<line x1="1595.8" y1="174.5" x2="1661.6" y2="174.5" stroke="#7030A0" stroke-width="5.8" stroke-linecap="round"/>
<circle cx="1629.7" cy="174.5" r="9.1" fill="#7030A0"/>
<text x="1671.4" y="187.7" font-size="41.2">70-74</text>
<line x1="1595.8" y1="240.2" x2="1661.6" y2="240.2" stroke="#FFC000" stroke-width="5.8" stroke-linecap="round"/>
<circle cx="1629.7" cy="240.2" r="9.1" fill="#FFC000"/>
<text x="1671.4" y="253.4" font-size="41.2">65-69</text>
<line x1="1595.8" y1="305.8" x2="1661.6" y2="305.8" stroke="#FF0000" stroke-width="5.8" stroke-linecap="round"/>
<circle cx="1629.7" cy="305.8" r="9.1" fill="#FF0000"/>
<text x="1671.4" y="319.0" font-size="41.2">60-64</text>
<line x1="1595.8" y1="371.4" x2="1661.6" y2="371.4" stroke="#996633" stroke-width="5.8" stroke-linecap="round"/>
<circle cx="1629.7" cy="371.4" r="9.1" fill="#9C6500"/>
<text x="1671.4" y="384.6" font-size="41.2">55-59</text>
<line x1="1595.8" y1="437.0" x2="1661.6" y2="437.0" stroke="#00B050" stroke-width="5.8" stroke-linecap="round"/>
<circle cx="1629.7" cy="437.0" r="9.1" fill="#00B050"/>
<text x="1671.4" y="450.2" font-size="41.2">50-54</text>
<line x1="1595.8" y1="502.6" x2="1661.6" y2="502.6" stroke="#ED7D31" stroke-width="5.8" stroke-linecap="round"/>
<circle cx="1629.7" cy="502.6" r="9.1" fill="#ED7D31"/>
<text x="1671.4" y="515.8" font-size="41.2">45-49</text>
<line x1="1595.8" y1="568.3" x2="1661.6" y2="568.3" stroke="#4472C4" stroke-width="5.8" stroke-linecap="round"/>
<circle cx="1629.7" cy="568.3" r="9.1" fill="#0070C0"/>
<text x="1671.4" y="581.5" font-size="41.2">40-44</text>
<line x1="1595.8" y1="633.9" x2="1661.6" y2="633.9" stroke="#F8CBAD" stroke-width="5.8" stroke-linecap="round"/>
<circle cx="1629.7" cy="633.9" r="9.1" fill="#F8CBAD"/>
<text x="1671.4" y="647.1" font-size="41.2">35-39</text>
<line x1="1595.8" y1="699.5" x2="1661.6" y2="699.5" stroke="#BFBFBF" stroke-width="5.8" stroke-linecap="round"/>
<circle cx="1629.7" cy="699.5" r="9.1" fill="#BFBFBF"/>
<text x="1671.4" y="712.7" font-size="41.2">30-34</text>
<line x1="1595.8" y1="765.1" x2="1661.6" y2="765.1" stroke="#595959" stroke-width="5.8" stroke-linecap="round"/>
<circle cx="1629.7" cy="765.1" r="9.1" fill="#595959"/>
<text x="1671.4" y="778.3" font-size="41.2">25-29</text>
</g>
</svg>
</body></html>
